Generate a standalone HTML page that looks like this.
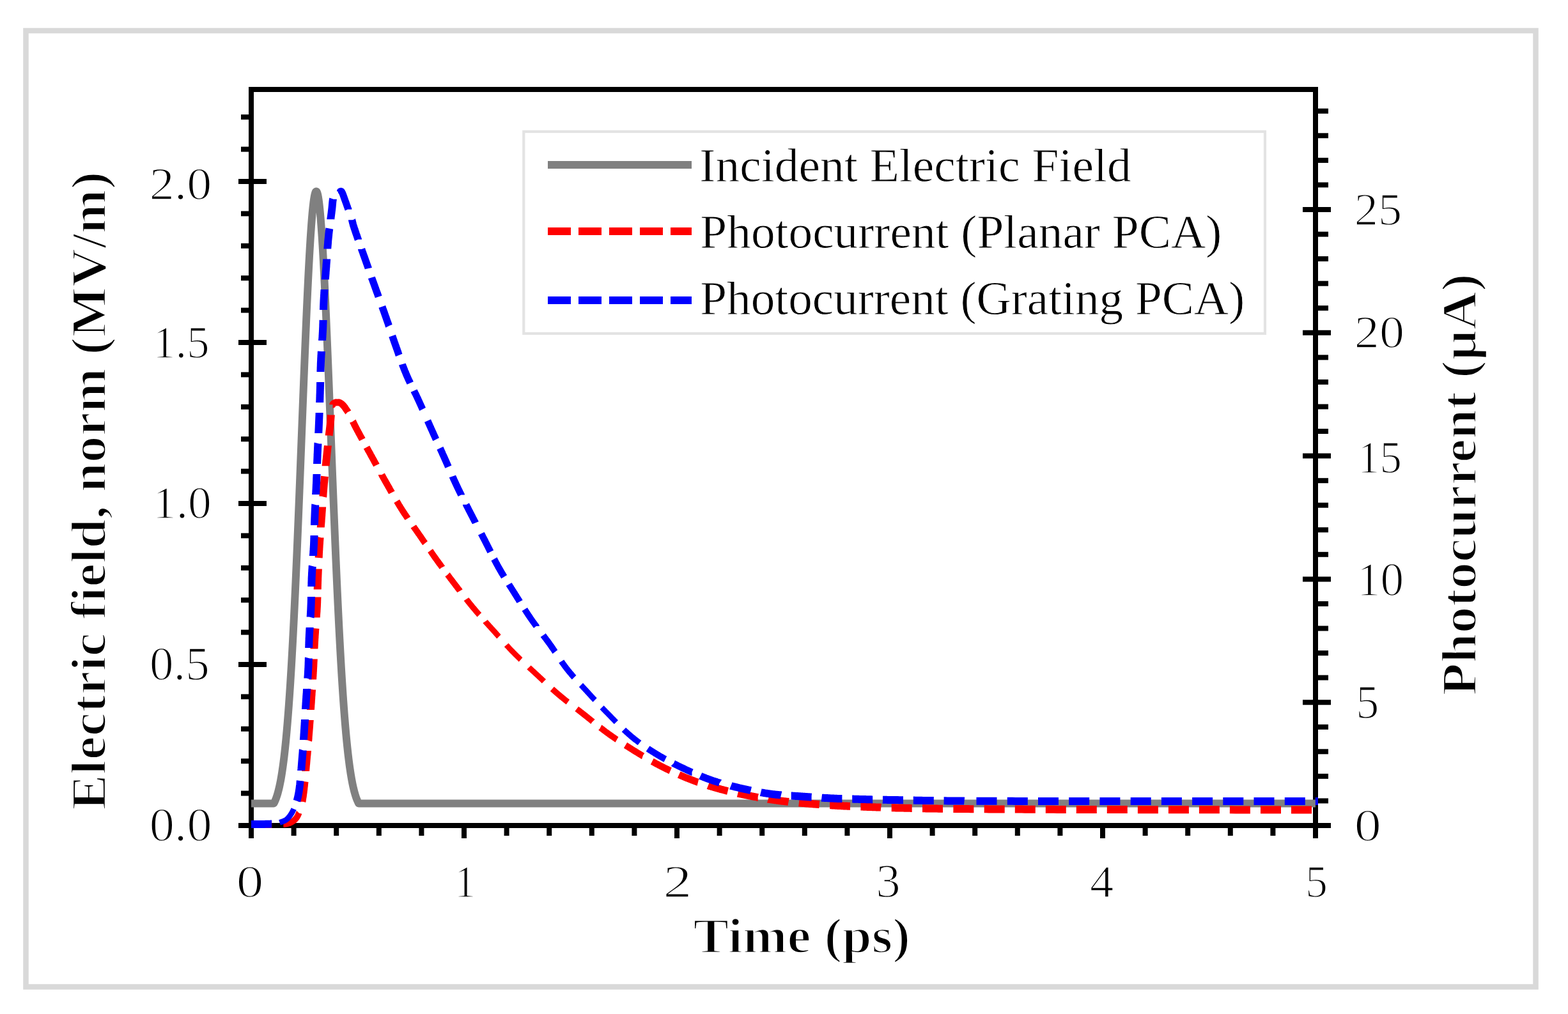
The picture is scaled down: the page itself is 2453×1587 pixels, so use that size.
<!DOCTYPE html>
<html><head><meta charset="utf-8"><title>Photocurrent chart</title>
<style>
html,body{margin:0;padding:0;background:#fff;}
body{width:2453px;height:1587px;overflow:hidden;}
svg{display:block;}
text{font-family:"Liberation Serif","Times New Roman",serif;fill:#000;}
</style></head><body>
<svg width="2453" height="1587" viewBox="0 0 2453 1587">
<rect x="0" y="0" width="2453" height="1587" fill="#fff"/>
<rect x="40.5" y="48" width="2362" height="1496.5" fill="none" stroke="#d9d9d9" stroke-width="8.5"/>
<g stroke="#000" stroke-width="8" fill="none">
<rect x="393" y="140" width="1665" height="1152"/>
<line x1="373" y1="1292.0" x2="417" y2="1292.0"/>
<line x1="377" y1="1241.6" x2="393" y2="1241.6"/>
<line x1="377" y1="1191.2" x2="393" y2="1191.2"/>
<line x1="377" y1="1140.8" x2="393" y2="1140.8"/>
<line x1="377" y1="1090.4" x2="393" y2="1090.4"/>
<line x1="373" y1="1040.0" x2="417" y2="1040.0"/>
<line x1="377" y1="989.6" x2="393" y2="989.6"/>
<line x1="377" y1="939.2" x2="393" y2="939.2"/>
<line x1="377" y1="888.8" x2="393" y2="888.8"/>
<line x1="377" y1="838.4" x2="393" y2="838.4"/>
<line x1="373" y1="788.0" x2="417" y2="788.0"/>
<line x1="377" y1="737.6" x2="393" y2="737.6"/>
<line x1="377" y1="687.2" x2="393" y2="687.2"/>
<line x1="377" y1="636.8" x2="393" y2="636.8"/>
<line x1="377" y1="586.4" x2="393" y2="586.4"/>
<line x1="373" y1="536.0" x2="417" y2="536.0"/>
<line x1="377" y1="485.6" x2="393" y2="485.6"/>
<line x1="377" y1="435.2" x2="393" y2="435.2"/>
<line x1="377" y1="384.8" x2="393" y2="384.8"/>
<line x1="377" y1="334.4" x2="393" y2="334.4"/>
<line x1="373" y1="284.0" x2="417" y2="284.0"/>
<line x1="377" y1="233.6" x2="393" y2="233.6"/>
<line x1="377" y1="183.2" x2="393" y2="183.2"/>
<line x1="2038" y1="1292.0" x2="2082" y2="1292.0"/>
<line x1="2058" y1="1253.4" x2="2078" y2="1253.4"/>
<line x1="2058" y1="1214.9" x2="2078" y2="1214.9"/>
<line x1="2058" y1="1176.3" x2="2078" y2="1176.3"/>
<line x1="2058" y1="1137.8" x2="2078" y2="1137.8"/>
<line x1="2038" y1="1099.2" x2="2082" y2="1099.2"/>
<line x1="2058" y1="1060.6" x2="2078" y2="1060.6"/>
<line x1="2058" y1="1022.1" x2="2078" y2="1022.1"/>
<line x1="2058" y1="983.5" x2="2078" y2="983.5"/>
<line x1="2058" y1="945.0" x2="2078" y2="945.0"/>
<line x1="2038" y1="906.4" x2="2082" y2="906.4"/>
<line x1="2058" y1="867.8" x2="2078" y2="867.8"/>
<line x1="2058" y1="829.3" x2="2078" y2="829.3"/>
<line x1="2058" y1="790.7" x2="2078" y2="790.7"/>
<line x1="2058" y1="752.2" x2="2078" y2="752.2"/>
<line x1="2038" y1="713.6" x2="2082" y2="713.6"/>
<line x1="2058" y1="675.0" x2="2078" y2="675.0"/>
<line x1="2058" y1="636.5" x2="2078" y2="636.5"/>
<line x1="2058" y1="597.9" x2="2078" y2="597.9"/>
<line x1="2058" y1="559.4" x2="2078" y2="559.4"/>
<line x1="2038" y1="520.8" x2="2082" y2="520.8"/>
<line x1="2058" y1="482.2" x2="2078" y2="482.2"/>
<line x1="2058" y1="443.7" x2="2078" y2="443.7"/>
<line x1="2058" y1="405.1" x2="2078" y2="405.1"/>
<line x1="2058" y1="366.6" x2="2078" y2="366.6"/>
<line x1="2038" y1="328.0" x2="2082" y2="328.0"/>
<line x1="2058" y1="289.4" x2="2078" y2="289.4"/>
<line x1="2058" y1="250.9" x2="2078" y2="250.9"/>
<line x1="2058" y1="212.3" x2="2078" y2="212.3"/>
<line x1="2058" y1="173.8" x2="2078" y2="173.8"/>
<line x1="393.0" y1="1292" y2="1312" x2="393.0"/>
<line x1="459.6" y1="1292" y2="1308" x2="459.6"/>
<line x1="526.2" y1="1292" y2="1308" x2="526.2"/>
<line x1="592.8" y1="1292" y2="1308" x2="592.8"/>
<line x1="659.4" y1="1292" y2="1308" x2="659.4"/>
<line x1="726.0" y1="1292" y2="1312" x2="726.0"/>
<line x1="792.6" y1="1292" y2="1308" x2="792.6"/>
<line x1="859.2" y1="1292" y2="1308" x2="859.2"/>
<line x1="925.8" y1="1292" y2="1308" x2="925.8"/>
<line x1="992.4" y1="1292" y2="1308" x2="992.4"/>
<line x1="1059.0" y1="1292" y2="1312" x2="1059.0"/>
<line x1="1125.6" y1="1292" y2="1308" x2="1125.6"/>
<line x1="1192.2" y1="1292" y2="1308" x2="1192.2"/>
<line x1="1258.8" y1="1292" y2="1308" x2="1258.8"/>
<line x1="1325.4" y1="1292" y2="1308" x2="1325.4"/>
<line x1="1392.0" y1="1292" y2="1312" x2="1392.0"/>
<line x1="1458.6" y1="1292" y2="1308" x2="1458.6"/>
<line x1="1525.2" y1="1292" y2="1308" x2="1525.2"/>
<line x1="1591.8" y1="1292" y2="1308" x2="1591.8"/>
<line x1="1658.4" y1="1292" y2="1308" x2="1658.4"/>
<line x1="1725.0" y1="1292" y2="1312" x2="1725.0"/>
<line x1="1791.6" y1="1292" y2="1308" x2="1791.6"/>
<line x1="1858.2" y1="1292" y2="1308" x2="1858.2"/>
<line x1="1924.8" y1="1292" y2="1308" x2="1924.8"/>
<line x1="1991.4" y1="1292" y2="1308" x2="1991.4"/>
<line x1="2058.0" y1="1292" y2="1312" x2="2058.0"/>
</g>
<g fill="none" stroke-width="12" stroke-linejoin="round">
<path d="M393.0,1257.50 L393.5,1257.50 L394.0,1257.50 L394.5,1257.50 L395.0,1257.50 L395.5,1257.50 L396.0,1257.50 L396.5,1257.50 L397.0,1257.50 L397.5,1257.50 L398.0,1257.50 L398.5,1257.50 L399.0,1257.50 L399.5,1257.50 L400.0,1257.50 L400.5,1257.50 L401.0,1257.50 L401.5,1257.50 L402.0,1257.50 L402.5,1257.50 L403.0,1257.50 L403.5,1257.50 L404.0,1257.50 L404.5,1257.50 L405.0,1257.50 L405.5,1257.50 L406.0,1257.50 L406.5,1257.50 L407.0,1257.50 L407.5,1257.50 L408.0,1257.50 L408.5,1257.50 L409.0,1257.50 L409.5,1257.50 L410.0,1257.50 L410.5,1257.50 L411.0,1257.50 L411.5,1257.50 L412.0,1257.50 L412.5,1257.50 L413.0,1257.50 L413.5,1257.50 L414.0,1257.50 L414.5,1257.50 L415.0,1257.50 L415.5,1257.50 L416.0,1257.50 L416.5,1257.50 L417.0,1257.50 L417.5,1257.50 L418.0,1257.50 L418.5,1257.50 L419.0,1257.50 L419.5,1257.50 L420.0,1257.50 L420.5,1257.50 L421.0,1257.50 L421.5,1257.50 L422.0,1257.50 L422.5,1257.50 L423.0,1257.50 L423.5,1257.50 L424.0,1257.50 L424.5,1257.50 L425.0,1257.50 L425.5,1257.50 L426.0,1257.50 L426.5,1257.50 L427.0,1257.50 L427.5,1257.50 L428.0,1257.50 L428.5,1257.24 L429.0,1256.28 L429.5,1255.26 L430.0,1254.19 L430.5,1253.05 L431.0,1251.86 L431.5,1250.59 L432.0,1249.27 L432.5,1247.86 L433.0,1246.39 L433.5,1244.84 L434.0,1243.21 L434.5,1241.50 L435.0,1239.70 L435.5,1237.81 L436.0,1235.82 L436.5,1233.74 L437.0,1231.57 L437.5,1229.28 L438.0,1226.89 L438.5,1224.39 L439.0,1221.78 L439.5,1219.05 L440.0,1216.19 L440.5,1213.22 L441.0,1210.11 L441.5,1206.87 L442.0,1203.49 L442.5,1199.97 L443.0,1196.31 L443.5,1192.49 L444.0,1188.53 L444.5,1184.41 L445.0,1180.13 L445.5,1175.69 L446.0,1171.08 L446.5,1166.31 L447.0,1161.36 L447.5,1156.23 L448.0,1150.92 L448.5,1145.43 L449.0,1139.76 L449.5,1133.90 L450.0,1127.84 L450.5,1121.59 L451.0,1115.15 L451.5,1108.51 L452.0,1101.67 L452.5,1094.63 L453.0,1087.38 L453.5,1079.93 L454.0,1072.27 L454.5,1064.41 L455.0,1056.34 L455.5,1048.07 L456.0,1039.59 L456.5,1030.90 L457.0,1022.00 L457.5,1012.91 L458.0,1003.61 L458.5,994.10 L459.0,984.40 L459.5,974.50 L460.0,964.41 L460.5,954.13 L461.0,943.66 L461.5,933.01 L462.0,922.17 L462.5,911.17 L463.0,899.99 L463.5,888.65 L464.0,877.16 L464.5,865.51 L465.0,853.72 L465.5,841.79 L466.0,829.73 L466.5,817.55 L467.0,805.26 L467.5,792.87 L468.0,780.38 L468.5,767.80 L469.0,755.15 L469.5,742.43 L470.0,729.66 L470.5,716.85 L471.0,704.00 L471.5,691.14 L472.0,678.26 L472.5,665.39 L473.0,652.53 L473.5,639.71 L474.0,626.92 L474.5,614.19 L475.0,601.53 L475.5,588.95 L476.0,576.47 L476.5,564.10 L477.0,551.84 L477.5,539.73 L478.0,527.77 L478.5,515.97 L479.0,504.35 L479.5,492.92 L480.0,481.70 L480.5,470.70 L481.0,459.93 L481.5,449.41 L482.0,439.15 L482.5,429.16 L483.0,419.46 L483.5,410.06 L484.0,400.98 L484.5,392.21 L485.0,383.78 L485.5,375.70 L486.0,367.97 L486.5,360.61 L487.0,353.63 L487.5,347.03 L488.0,340.84 L488.5,335.04 L489.0,329.66 L489.5,324.70 L490.0,320.17 L490.5,316.07 L491.0,312.41 L491.5,309.20 L492.0,306.43 L492.5,304.12 L493.0,302.27 L493.5,300.87 L494.0,299.94 L494.5,299.46 L495.0,299.45 L495.5,299.91 L496.0,300.82 L496.5,302.20 L497.0,304.04 L497.5,306.33 L498.0,309.08 L498.5,312.28 L499.0,315.92 L499.5,320.00 L500.0,324.51 L500.5,329.46 L501.0,334.82 L501.5,340.60 L502.0,346.78 L502.5,353.36 L503.0,360.32 L503.5,367.67 L504.0,375.38 L504.5,383.45 L505.0,391.87 L505.5,400.62 L506.0,409.69 L506.5,419.08 L507.0,428.77 L507.5,438.74 L508.0,448.99 L508.5,459.50 L509.0,470.26 L509.5,481.25 L510.0,492.47 L510.5,503.89 L511.0,515.50 L511.5,527.29 L512.0,539.25 L512.5,551.36 L513.0,563.60 L513.5,575.97 L514.0,588.45 L514.5,601.03 L515.0,613.69 L515.5,626.41 L516.0,639.20 L516.5,652.02 L517.0,664.88 L517.5,677.75 L518.0,690.62 L518.5,703.49 L519.0,716.34 L519.5,729.15 L520.0,741.92 L520.5,754.64 L521.0,767.30 L521.5,779.88 L522.0,792.37 L522.5,804.77 L523.0,817.06 L523.5,829.25 L524.0,841.31 L524.5,853.24 L525.0,865.04 L525.5,876.69 L526.0,888.20 L526.5,899.54 L527.0,910.72 L527.5,921.74 L528.0,932.58 L528.5,943.24 L529.0,953.71 L529.5,964.00 L530.0,974.10 L530.5,984.01 L531.0,993.72 L531.5,1003.23 L532.0,1012.54 L532.5,1021.64 L533.0,1030.55 L533.5,1039.24 L534.0,1047.73 L534.5,1056.02 L535.0,1064.09 L535.5,1071.96 L536.0,1079.63 L536.5,1087.09 L537.0,1094.34 L537.5,1101.39 L538.0,1108.24 L538.5,1114.89 L539.0,1121.34 L539.5,1127.60 L540.0,1133.66 L540.5,1139.53 L541.0,1145.21 L541.5,1150.71 L542.0,1156.02 L542.5,1161.16 L543.0,1166.11 L543.5,1170.90 L544.0,1175.51 L544.5,1179.96 L545.0,1184.24 L545.5,1188.37 L546.0,1192.34 L546.5,1196.16 L547.0,1199.82 L547.5,1203.35 L548.0,1206.73 L548.5,1209.98 L549.0,1213.09 L549.5,1216.08 L550.0,1218.94 L550.5,1221.67 L551.0,1224.29 L551.5,1226.80 L552.0,1229.19 L552.5,1231.48 L553.0,1233.66 L553.5,1235.74 L554.0,1237.73 L554.5,1239.62 L555.0,1241.42 L555.5,1243.14 L556.0,1244.78 L556.5,1246.33 L557.0,1247.81 L557.5,1249.21 L558.0,1250.54 L558.5,1251.81 L559.0,1253.01 L559.5,1254.14 L560.0,1255.22 L560.5,1256.24 L561.0,1257.21 L561.5,1257.50 L562.0,1257.50 L562.5,1257.50 L563.0,1257.50 L563.5,1257.50 L564.0,1257.50 L564.5,1257.50 L565.0,1257.50 L565.5,1257.50 L566.0,1257.50 L566.5,1257.50 L567.0,1257.50 L567.5,1257.50 L568.0,1257.50 L568.5,1257.50 L569.0,1257.50 L569.5,1257.50 L570.0,1257.50 L570.5,1257.50 L571.0,1257.50 L571.5,1257.50 L572.0,1257.50 L572.5,1257.50 L573.0,1257.50 L573.5,1257.50 L574.0,1257.50 L574.5,1257.50 L575.0,1257.50 L575.5,1257.50 L576.0,1257.50 L576.5,1257.50 L577.0,1257.50 L577.5,1257.50 L578.0,1257.50 L578.5,1257.50 L579.0,1257.50 L579.5,1257.50 L580.0,1257.50 L580.5,1257.50 L581.0,1257.50 L581.5,1257.50 L582.0,1257.50 L582.5,1257.50 L583.0,1257.50 L583.5,1257.50 L584.0,1257.50 L584.5,1257.50 L585.0,1257.50 L585.5,1257.50 L586.0,1257.50 L586.5,1257.50 L587.0,1257.50 L587.5,1257.50 L588.0,1257.50 L588.5,1257.50 L589.0,1257.50 L589.5,1257.50 L590.0,1257.50 L590.5,1257.50 L591.0,1257.50 L591.5,1257.50 L592.0,1257.50 L592.5,1257.50 L593.0,1257.50 L593.5,1257.50 L594.0,1257.50 L594.5,1257.50 L595.0,1257.50 L595.5,1257.50 L596.0,1257.50 L596.5,1257.50 L597.0,1257.50 L597.5,1257.50 L598.0,1257.50 L598.5,1257.50 L599.0,1257.50 L599.5,1257.50 L600.0,1257.50 L600.5,1257.50 L601.0,1257.50 L601.5,1257.50 L602.0,1257.50 L602.5,1257.50 L603.0,1257.50 L603.5,1257.50 L604.0,1257.50 L604.5,1257.50 L605.0,1257.50 L605.5,1257.50 L606.0,1257.50 L606.5,1257.50 L607.0,1257.50 L607.5,1257.50 L608.0,1257.50 L608.5,1257.50 L609.0,1257.50 L609.5,1257.50 L610.0,1257.50 L610.5,1257.50 L611.0,1257.50 L611.5,1257.50 L612.0,1257.50 L612.5,1257.50 L613.0,1257.50 L613.5,1257.50 L614.0,1257.50 L614.5,1257.50 L615.0,1257.50 L625.0,1257.50 L635.0,1257.50 L645.0,1257.50 L655.0,1257.50 L665.0,1257.50 L675.0,1257.50 L685.0,1257.50 L695.0,1257.50 L705.0,1257.50 L715.0,1257.50 L725.0,1257.50 L735.0,1257.50 L745.0,1257.50 L755.0,1257.50 L765.0,1257.50 L775.0,1257.50 L785.0,1257.50 L795.0,1257.50 L805.0,1257.50 L815.0,1257.50 L825.0,1257.50 L835.0,1257.50 L845.0,1257.50 L855.0,1257.50 L865.0,1257.50 L875.0,1257.50 L885.0,1257.50 L895.0,1257.50 L905.0,1257.50 L915.0,1257.50 L925.0,1257.50 L935.0,1257.50 L945.0,1257.50 L955.0,1257.50 L965.0,1257.50 L975.0,1257.50 L985.0,1257.50 L995.0,1257.50 L1005.0,1257.50 L1015.0,1257.50 L1025.0,1257.50 L1035.0,1257.50 L1045.0,1257.50 L1055.0,1257.50 L1065.0,1257.50 L1075.0,1257.50 L1085.0,1257.50 L1095.0,1257.50 L1105.0,1257.50 L1115.0,1257.50 L1125.0,1257.50 L1135.0,1257.50 L1145.0,1257.50 L1155.0,1257.50 L1165.0,1257.50 L1175.0,1257.50 L1185.0,1257.50 L1195.0,1257.50 L1205.0,1257.50 L1215.0,1257.50 L1225.0,1257.50 L1235.0,1257.50 L1245.0,1257.50 L1255.0,1257.50 L1265.0,1257.50 L1275.0,1257.50 L1285.0,1257.50 L1295.0,1257.50 L1305.0,1257.50 L1315.0,1257.50 L1325.0,1257.50 L1335.0,1257.50 L1345.0,1257.50 L1355.0,1257.50 L1365.0,1257.50 L1375.0,1257.50 L1385.0,1257.50 L1395.0,1257.50 L1405.0,1257.50 L1415.0,1257.50 L1425.0,1257.50 L1435.0,1257.50 L1445.0,1257.50 L1455.0,1257.50 L1465.0,1257.50 L1475.0,1257.50 L1485.0,1257.50 L1495.0,1257.50 L1505.0,1257.50 L1515.0,1257.50 L1525.0,1257.50 L1535.0,1257.50 L1545.0,1257.50 L1555.0,1257.50 L1565.0,1257.50 L1575.0,1257.50 L1585.0,1257.50 L1595.0,1257.50 L1605.0,1257.50 L1615.0,1257.50 L1625.0,1257.50 L1635.0,1257.50 L1645.0,1257.50 L1655.0,1257.50 L1665.0,1257.50 L1675.0,1257.50 L1685.0,1257.50 L1695.0,1257.50 L1705.0,1257.50 L1715.0,1257.50 L1725.0,1257.50 L1735.0,1257.50 L1745.0,1257.50 L1755.0,1257.50 L1765.0,1257.50 L1775.0,1257.50 L1785.0,1257.50 L1795.0,1257.50 L1805.0,1257.50 L1815.0,1257.50 L1825.0,1257.50 L1835.0,1257.50 L1845.0,1257.50 L1855.0,1257.50 L1865.0,1257.50 L1875.0,1257.50 L1885.0,1257.50 L1895.0,1257.50 L1905.0,1257.50 L1915.0,1257.50 L1925.0,1257.50 L1935.0,1257.50 L1945.0,1257.50 L1955.0,1257.50 L1965.0,1257.50 L1975.0,1257.50 L1985.0,1257.50 L1995.0,1257.50 L2005.0,1257.50 L2015.0,1257.50 L2025.0,1257.50 L2035.0,1257.50 L2045.0,1257.50 L2055.0,1257.50 L2058.0,1257.50" stroke="#808080"/>
<g stroke="#ff0000"><path d="M393.2,1290.0 L393.5,1290.0 L394.0,1290.0 L394.6,1290.0 L395.3,1290.0 L396.0,1290.0 L396.7,1290.0 L397.5,1290.0 L398.3,1290.0 L399.2,1290.0 L400.0,1290.0 L401.0,1290.0 L401.9,1290.0 L402.9,1290.0 L403.9,1290.0 L404.9,1290.0 L406.0,1290.0 L407.0,1290.1 L408.1,1290.1 L409.2,1290.1 L410.2,1290.1 L411.3,1290.1 L412.4,1290.1 L413.5,1290.1 L414.6,1290.1 L415.7,1290.1 L416.8,1290.1 L417.9,1290.1 L419.0,1290.1 L420.0,1290.1 L421.1,1290.1 L422.1,1290.1 L423.1,1290.1 L424.1,1290.1 L425.0,1290.1 L425.2,1290.1" stroke-width="12.0"/><path d="M443.4,1289.9 L443.8,1289.9 L444.2,1289.9 L444.6,1289.9 L445.0,1289.8 L445.5,1289.8 L445.9,1289.8 L446.3,1289.7 L446.7,1289.7 L447.1,1289.6 L447.5,1289.5 L448.0,1289.5 L448.4,1289.4 L448.8,1289.3 L449.2,1289.2 L449.6,1289.1 L450.0,1289.0 L450.4,1288.9 L450.8,1288.8 L451.2,1288.6 L451.6,1288.5 L452.0,1288.4 L452.4,1288.3 L452.8,1288.1 L453.1,1288.0 L453.5,1287.8 L453.9,1287.7 L454.2,1287.5 L454.6,1287.4 L455.0,1287.2 L455.3,1287.0 L455.7,1286.9 L456.0,1286.7 L456.3,1286.5 L456.7,1286.3 L457.0,1286.1 L457.3,1285.9 L457.6,1285.7 L457.9,1285.5 L458.3,1285.3 L458.6,1285.1 L458.9,1284.9 L459.2,1284.7 L459.5,1284.4 L459.8,1284.2 L460.1,1284.0 L460.3,1283.7 L460.6,1283.5 L460.9,1283.2 L461.2,1283.0 L461.4,1282.7 L461.7,1282.4 L462.0,1282.2 L462.2,1281.9 L462.5,1281.6 L462.7,1281.3 L463.0,1281.0 L463.2,1280.7 L463.5,1280.4 L463.7,1280.1 L464.0,1279.8 L464.2,1279.5 L464.4,1279.1 L464.6,1278.8 L464.8,1278.5 L465.0,1278.1 L465.2,1277.8 L465.4,1277.5 L465.6,1277.1 L465.8,1276.7 L466.0,1276.4 L466.2,1276.0 L466.3,1275.7 L466.5,1275.3 L466.7,1274.9 L466.8,1274.5 L467.0,1274.1 L467.2,1273.7 L467.3,1273.3 L467.5,1272.9 L467.6,1272.5 L467.7,1272.4" stroke-width="9.7"/><path d="M472.4,1254.8 L472.4,1254.6 L472.5,1254.0 L472.7,1253.4 L472.8,1252.8 L472.9,1252.1 L473.0,1251.5 L473.1,1250.8 L473.2,1250.1 L473.3,1249.4 L473.4,1248.7 L473.5,1248.0 L473.7,1247.3 L473.8,1246.5 L473.9,1245.8 L474.0,1245.0 L474.1,1244.2 L474.2,1243.4 L474.3,1242.5 L474.4,1241.7 L474.6,1240.8 L474.7,1239.9 L474.8,1239.0 L474.9,1238.1 L475.0,1237.1 L475.2,1236.1 L475.3,1235.1 L475.4,1234.1 L475.5,1233.0 L475.6,1231.9 L475.8,1230.8 L475.9,1229.7 L476.0,1228.5 L476.1,1227.4 L476.2,1226.2 L476.4,1225.0 L476.5,1223.8 L476.6,1223.1" stroke-width="11.9"/><path d="M478.1,1206.9 L478.1,1206.1 L478.3,1204.8 L478.4,1203.5 L478.5,1202.2 L478.6,1201.0 L478.7,1199.7 L478.8,1198.4 L478.9,1197.2 L479.1,1195.9 L479.2,1194.7 L479.3,1193.4 L479.4,1192.2 L479.5,1191.0 L479.6,1189.8 L479.7,1188.6 L479.8,1187.4 L479.9,1186.2 L480.0,1185.0 L480.1,1183.8 L480.2,1182.6 L480.4,1181.4 L480.5,1180.2 L480.6,1179.0 L480.7,1177.8 L480.8,1176.6 L480.9,1175.4 L480.9,1175.1" stroke-width="12.0"/><path d="M482.2,1158.9 L482.3,1158.6 L482.4,1157.4 L482.5,1156.2 L482.6,1155.0 L482.6,1153.8 L482.7,1152.6 L482.8,1151.4 L482.9,1150.2 L483.0,1149.0 L483.1,1147.8 L483.2,1146.6 L483.3,1145.4 L483.4,1144.2 L483.5,1143.0 L483.6,1141.8 L483.7,1140.6 L483.8,1139.4 L483.9,1138.2 L484.0,1137.0 L484.1,1135.8 L484.1,1134.6 L484.2,1133.4 L484.3,1132.2 L484.4,1131.0 L484.5,1129.8 L484.6,1128.6 L484.7,1127.4 L484.7,1127.0" stroke-width="12.0"/><path d="M485.9,1111.0 L485.9,1110.6 L486.0,1109.4 L486.1,1108.2 L486.2,1107.0 L486.3,1105.8 L486.3,1104.6 L486.4,1103.4 L486.5,1102.2 L486.6,1101.0 L486.7,1099.8 L486.8,1098.6 L486.8,1097.4 L486.9,1096.2 L487.0,1095.0 L487.1,1093.8 L487.2,1092.6 L487.2,1091.4 L487.3,1090.2 L487.4,1089.0 L487.5,1087.9 L487.6,1086.7 L487.6,1085.5 L487.7,1084.3 L487.8,1083.1 L487.9,1081.9 L488.0,1080.7 L488.0,1079.5 L488.1,1079.0" stroke-width="12.0"/><path d="M489.1,1063.5 L489.1,1062.9 L489.2,1061.8 L489.2,1060.6 L489.3,1059.4 L489.4,1058.2 L489.5,1057.0 L489.5,1055.8 L489.6,1054.6 L489.7,1053.5 L489.7,1052.3 L489.8,1051.1 L489.9,1049.9 L489.9,1048.7 L490.0,1047.5 L490.1,1046.3 L490.1,1045.1 L490.2,1043.9 L490.3,1042.7 L490.3,1041.5 L490.4,1040.3 L490.4,1039.2 L490.5,1038.0 L490.5,1036.8 L490.6,1035.6 L490.7,1034.4 L490.7,1033.2 L490.8,1032.0 L490.8,1031.5" stroke-width="12.0"/><path d="M491.5,1015.6 L491.5,1015.3 L491.5,1014.1 L491.6,1012.9 L491.7,1011.7 L491.7,1010.5 L491.8,1009.3 L491.8,1008.1 L491.9,1006.9 L492.0,1005.6 L492.0,1004.4 L492.1,1003.2 L492.2,1002.0 L492.2,1000.8 L492.3,999.6 L492.4,998.4 L492.5,997.2 L492.5,995.9 L492.6,994.7 L492.7,993.5 L492.8,992.3 L492.9,991.0 L493.0,989.8 L493.0,988.5 L493.1,987.3 L493.2,986.0 L493.3,984.8 L493.4,983.6" stroke-width="12.0"/><path d="M494.8,966.5 L494.8,966.1 L494.9,964.9 L495.0,963.7 L495.0,962.5 L495.1,961.2 L495.2,960.0 L495.3,958.8 L495.4,957.6 L495.5,956.4 L495.5,955.2 L495.6,954.0 L495.7,952.8 L495.7,951.7 L495.8,950.5 L495.9,949.3 L495.9,948.2 L496.0,947.0 L496.0,945.9 L496.1,944.8 L496.1,943.7 L496.2,942.6 L496.2,941.4 L496.2,940.3 L496.3,939.2 L496.3,938.2 L496.3,937.1 L496.4,936.0 L496.4,934.9 L496.4,934.5" stroke-width="12.0"/><path d="M496.7,922.4 L496.7,922.0 L496.8,920.9 L496.8,919.9 L496.8,918.8 L496.8,917.7 L496.9,916.6 L496.9,915.5 L496.9,914.4 L497.0,913.3 L497.0,912.1 L497.0,911.0 L497.1,909.9 L497.1,908.7 L497.2,907.6 L497.2,906.4 L497.2,905.2 L497.3,904.0 L497.3,902.9 L497.4,901.7 L497.4,900.5 L497.5,899.3 L497.5,898.0 L497.6,896.8 L497.6,895.6 L497.7,894.4 L497.7,893.1 L497.8,891.9 L497.8,890.7 L497.8,890.4" stroke-width="12.0"/><path d="M498.6,873.0 L498.7,871.9 L498.8,870.6 L498.8,869.3 L498.9,868.1 L498.9,866.8 L499.0,865.6 L499.1,864.4 L499.1,863.1 L499.2,861.9 L499.3,860.7 L499.4,859.4 L499.4,858.2 L499.5,857.0 L499.6,855.8 L499.6,854.6 L499.7,853.4 L499.8,852.2 L499.9,851.0 L500.0,849.8 L500.0,848.6 L500.1,847.4 L500.2,846.2 L500.3,845.0 L500.4,843.8 L500.5,842.6 L500.5,841.4 L500.6,841.0" stroke-width="12.0"/><path d="M501.8,825.4 L501.8,824.8 L501.9,823.7 L502.0,822.5 L502.1,821.3 L502.2,820.1 L502.3,818.9 L502.4,817.7 L502.5,816.5 L502.6,815.4 L502.6,814.2 L502.7,813.0 L502.8,811.8 L502.9,810.6 L503.0,809.4 L503.1,808.2 L503.2,807.0 L503.3,805.8 L503.3,804.6 L503.4,803.4 L503.5,802.2 L503.6,801.0 L503.7,799.8 L503.8,798.6 L503.8,797.4 L503.9,796.2 L504.0,795.0 L504.1,793.8 L504.1,793.4" stroke-width="12.0"/><path d="M505.2,777.4 L505.3,777.0 L505.4,775.8 L505.5,774.6 L505.5,773.4 L505.6,772.2 L505.7,771.0 L505.8,769.8 L505.9,768.6 L506.0,767.4 L506.1,766.2 L506.2,765.0 L506.3,763.8 L506.4,762.6 L506.5,761.4 L506.6,760.2 L506.7,759.0 L506.8,757.8 L506.9,756.5 L507.0,755.3 L507.2,754.0 L507.3,752.8 L507.4,751.5 L507.5,750.3 L507.6,749.0 L507.7,747.7 L507.9,746.4 L508.0,745.5" stroke-width="12.0"/><path d="M509.6,729.3 L509.6,728.9 L509.7,727.7 L509.9,726.5 L510.0,725.3 L510.1,724.2 L510.2,723.0 L510.3,721.9 L510.4,720.8 L510.6,719.6 L510.7,718.6 L510.8,717.5 L510.9,716.4 L511.0,715.4 L511.1,714.4 L511.2,713.4 L511.3,712.4 L511.4,711.5 L511.5,710.5 L511.6,709.6 L511.7,708.7 L511.8,707.8 L511.9,706.9 L512.0,706.0 L512.1,705.1 L512.2,704.2 L512.2,703.4 L512.3,702.6 L512.4,701.7 L512.5,700.9 L512.6,700.1 L512.7,699.3 L512.8,698.5 L512.9,697.8 L512.9,697.5" stroke-width="11.9"/><path d="M514.7,681.5 L514.7,681.3 L514.8,680.8 L514.8,680.2 L514.9,679.7 L514.9,679.2 L515.0,678.7 L515.1,678.2 L515.1,677.8 L515.2,677.3 L515.2,676.9 L515.3,676.4 L515.3,676.0 L515.4,675.6 L515.4,675.2 L515.5,674.8 L515.5,674.4 L515.6,674.0 L515.6,673.6 L515.7,673.2 L515.7,672.8 L515.8,672.5 L515.8,672.1 L515.9,671.7 L515.9,671.3 L515.9,671.0 L516.0,670.6 L516.0,670.2 L516.1,669.9 L516.1,669.5 L516.2,669.1 L516.2,668.7 L516.3,668.4 L516.3,668.0 L516.3,667.6 L516.4,667.2 L516.4,666.8 L516.5,666.4 L516.5,666.0 L516.5,665.6 L516.6,665.2 L516.6,664.8 L516.7,664.3 L516.7,663.9 L516.7,663.5 L516.8,663.1 L516.8,662.7 L516.8,662.2 L516.9,661.8 L516.9,661.4 L516.9,661.0 L517.0,660.6 L517.0,660.1 L517.0,659.7 L517.1,659.3 L517.1,658.9 L517.1,658.5 L517.2,658.1 L517.2,657.7 L517.2,657.2 L517.3,656.8 L517.3,656.4 L517.3,656.0 L517.4,655.6 L517.4,655.2 L517.4,654.8 L517.4,654.4 L517.5,654.0 L517.5,653.7 L517.5,653.3 L517.6,652.9 L517.6,652.5 L517.6,652.1 L517.6,651.8 L517.7,651.4 L517.7,651.1 L517.7,650.7 L517.8,650.3 L517.8,650.0 L517.8,649.7 L517.8,649.6" stroke-width="11.9"/><path d="M520.5,633.3 L520.6,633.3 L520.6,633.1 L520.7,633.0 L520.8,632.9 L520.8,632.8 L520.9,632.7 L520.9,632.6 L521.0,632.5 L521.1,632.4 L521.1,632.3 L521.2,632.2 L521.3,632.1 L521.3,632.0 L521.4,631.9 L521.5,631.9 L521.5,631.8 L521.6,631.7 L521.7,631.6 L521.7,631.6 L521.8,631.5 L521.9,631.4 L521.9,631.4 L522.0,631.3 L522.1,631.3 L522.2,631.2 L522.2,631.2 L522.3,631.1 L522.4,631.1 L522.5,631.0 L522.5,631.0 L522.6,630.9 L522.7,630.9 L522.8,630.8 L522.8,630.8 L522.9,630.8 L523.0,630.7 L523.1,630.7 L523.2,630.6 L523.2,630.6 L523.3,630.6 L523.4,630.5 L523.5,630.5 L523.6,630.5 L523.7,630.4 L523.7,630.4 L523.8,630.4 L523.9,630.3 L524.0,630.3 L524.1,630.3 L524.2,630.2 L524.3,630.2 L524.4,630.2 L524.5,630.1 L524.5,630.1 L524.6,630.1 L524.7,630.1 L524.8,630.0 L524.9,630.0 L525.0,630.0 L525.1,630.0 L525.2,630.0 L525.3,630.0 L525.4,629.9 L525.5,629.9 L525.6,629.9 L525.7,629.9 L525.8,629.9 L525.9,629.9 L526.0,629.9 L526.1,629.8 L526.2,629.8 L526.4,629.8 L526.5,629.8 L526.6,629.8 L526.7,629.8 L526.8,629.8 L526.9,629.8 L527.0,629.8 L527.1,629.8 L527.2,629.8 L527.3,629.8 L527.4,629.8 L527.5,629.8 L527.6,629.8 L527.7,629.8 L527.8,629.8 L527.9,629.8 L528.0,629.8 L528.1,629.8 L528.2,629.8 L528.3,629.8 L528.4,629.8 L528.5,629.8 L528.6,629.8 L528.7,629.8 L528.8,629.8 L528.9,629.8 L529.0,629.8 L529.1,629.8 L529.2,629.8 L529.3,629.8 L529.4,629.8 L529.5,629.8 L529.6,629.8 L529.6,629.8 L529.7,629.8 L529.8,629.9 L529.9,629.9 L530.0,629.9 L530.1,629.9 L530.2,629.9 L530.3,629.9 L530.4,629.9 L530.5,630.0 L530.6,630.0 L530.7,630.0 L530.8,630.0 L530.9,630.1 L531.0,630.1 L531.1,630.1 L531.2,630.2 L531.3,630.2 L531.5,630.2 L531.6,630.3 L531.7,630.3 L531.8,630.4 L531.9,630.4 L532.0,630.5 L532.1,630.6 L532.2,630.6 L532.3,630.7 L532.5,630.8 L532.6,630.8 L532.7,630.9 L532.8,631.0 L533.0,631.1 L533.1,631.2 L533.2,631.2 L533.3,631.3 L533.5,631.4 L533.6,631.5 L533.7,631.6 L533.8,631.7 L534.0,631.8 L534.1,631.9 L534.2,632.0 L534.4,632.1 L534.5,632.2 L534.6,632.3 L534.8,632.4 L534.9,632.5 L535.0,632.6 L535.2,632.8 L535.3,632.9 L535.4,633.0 L535.5,633.1 L535.7,633.2 L535.8,633.3 L535.9,633.4 L536.0,633.6 L536.2,633.7 L536.3,633.8 L536.4,633.9 L536.5,634.0 L536.7,634.1 L536.8,634.3 L536.9,634.4 L537.0,634.5 L537.1,634.6 L537.2,634.7 L537.3,634.8 L537.4,635.0 L537.5,635.1 L537.6,635.2 L537.7,635.3 L537.8,635.4 L537.9,635.6 L538.0,635.7 L538.1,635.8 L538.2,635.9 L538.3,636.0 L538.4,636.2 L538.5,636.3 L538.6,636.4 L538.7,636.5 L538.8,636.7 L538.9,636.8 L539.0,636.9 L539.1,637.0 L539.2,637.2 L539.3,637.3 L539.4,637.4 L539.5,637.6 L539.6,637.7 L539.7,637.9 L539.8,638.0 L539.9,638.1 L540.0,638.3 L540.1,638.4 L540.2,638.6 L540.3,638.7 L540.4,638.9 L540.5,639.0 L540.6,639.2 L540.7,639.3 L540.8,639.5 L540.9,639.6 L541.0,639.8 L541.1,640.0 L541.2,640.1 L541.3,640.3 L541.5,640.5 L541.6,640.6 L541.7,640.8 L541.8,641.0 L541.9,641.1 L542.0,641.3 L542.2,641.5 L542.3,641.6 L542.4,641.8 L542.5,642.0 L542.6,642.1 L542.8,642.3 L542.9,642.5 L543.0,642.7 L543.1,642.9 L543.3,643.0 L543.4,643.2 L543.5,643.4 L543.6,643.6 L543.8,643.8 L543.9,644.0 L544.0,644.2 L544.1,644.4 L544.3,644.6 L544.4,644.8" stroke-width="10.8"/><path d="M552.0,659.5 L552.2,659.8 L552.3,660.1 L552.5,660.4 L552.6,660.7 L552.7,661.0 L552.9,661.3 L553.0,661.5 L553.1,661.8 L553.2,662.1 L553.4,662.3 L553.5,662.6 L553.6,662.8 L553.7,663.1 L553.8,663.3 L554.0,663.6 L554.1,663.8 L554.2,664.1 L554.3,664.3 L554.5,664.6 L554.6,664.9 L554.7,665.2 L554.9,665.5 L555.0,665.8 L555.2,666.1 L555.4,666.4 L555.5,666.8 L555.7,667.2 L555.9,667.5 L556.1,667.9 L556.3,668.3 L556.6,668.8 L556.8,669.2 L557.0,669.7 L557.3,670.2 L557.6,670.8 L557.9,671.3 L558.2,671.9 L558.5,672.5 L558.8,673.1 L559.2,673.8 L559.6,674.5 L560.0,675.2 L560.4,676.0 L560.8,676.8 L561.2,677.6 L561.7,678.4 L562.1,679.3 L562.6,680.1 L563.1,681.0 L563.6,682.0 L564.1,682.9 L564.7,683.9 L565.2,684.8 L565.7,685.8 L566.3,686.9 L566.8,687.9" stroke-width="10.6"/><path d="M573.5,700.0 L574.0,700.9 L574.6,702.0 L575.2,703.1 L575.8,704.3 L576.4,705.4 L577.1,706.5 L577.7,707.6 L578.3,708.7 L578.9,709.8 L579.5,710.8 L580.0,711.9 L580.6,713.0 L581.2,714.0 L581.8,715.0 L582.3,716.1 L582.9,717.1 L583.5,718.2 L584.1,719.3 L584.7,720.3 L585.3,721.4 L585.8,722.5 L586.4,723.5 L587.0,724.6 L587.6,725.7 L588.2,726.8 L588.8,727.8 L588.9,728.0" stroke-width="10.5"/><path d="M597.2,743.0 L597.2,743.1 L597.8,744.2 L598.4,745.2 L599.0,746.3 L599.6,747.4 L600.2,748.5 L600.8,749.6 L601.4,750.6 L602.0,751.7 L602.6,752.8 L603.2,753.8 L603.8,754.9 L604.4,755.9 L605.0,757.0 L605.6,758.0 L606.2,759.1 L606.8,760.1 L607.4,761.2 L608.0,762.2 L608.6,763.3 L609.2,764.3 L609.7,765.4 L610.3,766.4 L610.9,767.4 L611.5,768.5 L612.1,769.5 L612.7,770.5 L612.9,770.9" stroke-width="10.5"/><path d="M620.7,784.4 L621.0,784.9 L621.6,785.9 L622.2,786.9 L622.8,787.9 L623.4,788.9 L624.0,790.0 L624.6,791.0 L625.2,792.0 L625.9,793.0 L626.5,794.0 L627.1,795.0 L627.7,796.0 L628.4,797.0 L629.0,798.0 L629.6,799.0 L630.3,800.0 L630.9,801.0 L631.6,802.0 L632.2,803.0 L632.9,804.0 L633.5,804.9 L634.2,805.9 L634.9,806.9 L635.5,807.9 L636.2,808.9 L636.9,809.8 L637.6,810.8 L637.9,811.3" stroke-width="10.1"/><path d="M646.8,823.9 L647.1,824.4 L647.8,825.4 L648.5,826.3 L649.2,827.3 L649.9,828.3 L650.6,829.2 L651.2,830.2 L651.9,831.2 L652.6,832.1 L653.3,833.1 L654.0,834.1 L654.6,835.1 L655.3,836.0 L656.0,837.0 L656.7,838.0 L657.3,838.9 L658.0,839.9 L658.7,840.9 L659.4,841.9 L660.0,842.8 L660.7,843.8 L661.4,844.8 L662.0,845.8 L662.7,846.8 L663.4,847.7 L664.0,848.7 L664.7,849.7 L665.1,850.2" stroke-width="9.9"/><path d="M673.1,861.9 L673.4,862.3 L674.1,863.3 L674.8,864.3 L675.4,865.3 L676.1,866.2 L676.8,867.2 L677.5,868.2 L678.2,869.2 L678.8,870.2 L679.5,871.1 L680.2,872.1 L680.9,873.1 L681.6,874.1 L682.3,875.0 L683.0,876.0 L683.7,877.0 L684.4,878.0 L685.1,878.9 L685.8,879.9 L686.5,880.9 L687.2,881.9 L688.0,882.9 L688.7,883.8 L689.4,884.8 L690.1,885.8 L690.8,886.8 L691.6,887.8 L691.7,888.0" stroke-width="9.8"/><path d="M700.2,899.4 L700.3,899.5 L701.0,900.5 L701.8,901.5 L702.5,902.5 L703.2,903.4 L704.0,904.4 L704.7,905.4 L705.4,906.4 L706.2,907.3 L706.9,908.3 L707.6,909.3 L708.4,910.2 L709.1,911.2 L709.8,912.1 L710.5,913.1 L711.3,914.0 L712.0,915.0 L712.7,915.9 L713.4,916.9 L714.2,917.8 L714.9,918.8 L715.6,919.7 L716.3,920.7 L717.0,921.6 L717.8,922.5 L718.5,923.5 L719.2,924.4 L719.5,924.9" stroke-width="9.6"/><path d="M729.5,937.7 L729.9,938.3 L730.6,939.2 L731.4,940.1 L732.1,941.0 L732.8,942.0 L733.5,942.9 L734.3,943.8 L735.0,944.7 L735.7,945.6 L736.5,946.5 L737.2,947.4 L738.0,948.3 L738.7,949.3 L739.5,950.2 L740.2,951.1 L741.0,952.0 L741.8,952.9 L742.5,953.8 L743.3,954.7 L744.1,955.6 L744.9,956.6 L745.6,957.5 L746.4,958.4 L747.2,959.3 L748.0,960.2 L748.8,961.1 L749.6,962.0 L749.9,962.3" stroke-width="9.2"/><path d="M759.1,972.6 L759.3,972.9 L760.1,973.8 L760.9,974.7 L761.8,975.6 L762.6,976.5 L763.4,977.4 L764.2,978.3 L765.0,979.2 L765.8,980.1 L766.6,980.9 L767.4,981.8 L768.2,982.7 L769.0,983.6 L769.8,984.5 L770.6,985.4 L771.4,986.2 L772.2,987.1 L773.0,988.0 L773.8,988.9 L774.6,989.7 L775.3,990.6 L776.1,991.5 L776.9,992.3 L777.6,993.2 L778.4,994.1 L779.2,994.9 L779.9,995.8 L780.5,996.4" stroke-width="8.9"/><path d="M792.2,1009.5 L792.7,1010.1 L793.5,1010.9 L794.3,1011.8 L795.1,1012.6 L795.9,1013.5 L796.6,1014.3 L797.4,1015.2 L798.2,1016.0 L799.0,1016.9 L799.8,1017.7 L800.7,1018.6 L801.5,1019.4 L802.3,1020.3 L803.2,1021.1 L804.0,1022.0 L804.9,1022.9 L805.7,1023.7 L806.6,1024.6 L807.5,1025.5 L808.4,1026.4 L809.3,1027.2 L810.2,1028.1 L811.1,1029.0 L812.0,1029.9 L812.9,1030.8 L813.8,1031.7 L814.6,1032.4" stroke-width="8.6"/><path d="M827.5,1044.5 L828.0,1045.0 L829.0,1045.9 L829.9,1046.8 L830.9,1047.6 L831.8,1048.5 L832.8,1049.4 L833.7,1050.2 L834.6,1051.1 L835.6,1052.0 L836.5,1052.8 L837.4,1053.7 L838.3,1054.5 L839.2,1055.3 L840.1,1056.2 L841.0,1057.0 L841.9,1057.8 L842.8,1058.6 L843.6,1059.5 L844.5,1060.3 L845.4,1061.1 L846.2,1061.9 L847.1,1062.7 L847.9,1063.5 L848.8,1064.3 L849.6,1065.1 L850.5,1065.9 L850.9,1066.3" stroke-width="8.8"/><path d="M863.8,1078.2 L864.7,1079.0 L865.5,1079.7 L866.4,1080.5 L867.2,1081.2 L868.1,1082.0 L868.9,1082.7 L869.8,1083.5 L870.6,1084.2 L871.5,1085.0 L872.4,1085.7 L873.2,1086.5 L874.1,1087.2 L875.0,1088.0 L875.9,1088.7 L876.8,1089.5 L877.7,1090.2 L878.6,1091.0 L879.5,1091.7 L880.4,1092.4 L881.3,1093.2 L882.2,1093.9 L883.1,1094.6 L884.0,1095.4 L884.9,1096.1 L885.8,1096.8 L886.8,1097.5 L887.7,1098.3 L888.4,1098.8" stroke-width="9.2"/><path d="M902.2,1109.4 L902.6,1109.7 L903.5,1110.4 L904.5,1111.2 L905.4,1111.9 L906.4,1112.6 L907.3,1113.3 L908.2,1114.1 L909.2,1114.8 L910.1,1115.5 L911.1,1116.3 L912.0,1117.0 L912.9,1117.7 L913.9,1118.5 L914.8,1119.2 L915.8,1120.0 L916.7,1120.7 L917.6,1121.5 L918.6,1122.2 L919.5,1123.0 L920.5,1123.8 L921.4,1124.5 L922.4,1125.3 L923.3,1126.1 L924.2,1126.8 L925.2,1127.6 L926.1,1128.4 L927.1,1129.1 L927.3,1129.3" stroke-width="9.4"/><path d="M939.1,1138.8 L939.5,1139.0 L940.4,1139.8 L941.4,1140.5 L942.3,1141.2 L943.3,1142.0 L944.2,1142.7 L945.2,1143.4 L946.2,1144.2 L947.1,1144.9 L948.1,1145.6 L949.0,1146.3 L950.0,1147.0 L951.0,1147.7 L951.9,1148.4 L952.9,1149.1 L953.8,1149.8 L954.8,1150.5 L955.8,1151.1 L956.7,1151.8 L957.7,1152.5 L958.6,1153.1 L959.6,1153.8 L960.6,1154.5 L961.5,1155.1 L962.5,1155.8 L963.5,1156.5 L964.4,1157.1 L965.1,1157.5" stroke-width="9.7"/><path d="M978.5,1166.4 L979.0,1166.7 L980.0,1167.3 L981.0,1168.0 L982.0,1168.6 L983.0,1169.2 L984.0,1169.8 L985.0,1170.5 L986.0,1171.1 L987.0,1171.7 L988.0,1172.4 L989.0,1173.0 L990.0,1173.6 L991.0,1174.3 L992.0,1174.9 L993.1,1175.5 L994.1,1176.2 L995.1,1176.8 L996.1,1177.4 L997.1,1178.0 L998.2,1178.7 L999.2,1179.3 L1000.2,1179.9 L1001.3,1180.6 L1002.3,1181.2 L1003.3,1181.8 L1004.4,1182.4 L1005.4,1183.1 L1005.7,1183.2" stroke-width="10.2"/><path d="M1020.2,1191.7 L1021.2,1192.2 L1022.3,1192.8 L1023.4,1193.4 L1024.5,1194.0 L1025.5,1194.6 L1026.6,1195.2 L1027.7,1195.8 L1028.8,1196.4 L1029.9,1196.9 L1031.0,1197.5 L1032.1,1198.1 L1033.2,1198.6 L1034.3,1199.2 L1035.4,1199.8 L1036.6,1200.4 L1037.7,1200.9 L1038.8,1201.5 L1040.0,1202.1 L1041.1,1202.6 L1042.2,1203.2 L1043.4,1203.7 L1044.5,1204.3 L1045.7,1204.9 L1046.8,1205.4 L1048.0,1206.0 L1048.7,1206.3" stroke-width="10.7"/><path d="M1062.2,1212.5 L1063.1,1212.9 L1064.3,1213.4 L1065.5,1213.9 L1066.6,1214.4 L1067.8,1214.9 L1069.0,1215.4 L1070.1,1215.9 L1071.3,1216.4 L1072.4,1216.8 L1073.6,1217.3 L1074.7,1217.8 L1075.9,1218.2 L1077.0,1218.7 L1078.1,1219.1 L1079.3,1219.6 L1080.4,1220.0 L1081.5,1220.5 L1082.7,1220.9 L1083.8,1221.3 L1084.9,1221.7 L1086.0,1222.2 L1087.1,1222.6 L1088.2,1223.0 L1089.4,1223.4 L1090.5,1223.8 L1091.6,1224.2 L1092.0,1224.3" stroke-width="11.2"/><path d="M1107.8,1229.5 L1108.3,1229.7 L1109.4,1230.0 L1110.6,1230.4 L1111.7,1230.7 L1112.8,1231.0 L1114.0,1231.4 L1115.1,1231.7 L1116.2,1232.0 L1117.4,1232.4 L1118.5,1232.7 L1119.7,1233.0 L1120.8,1233.4 L1122.0,1233.7 L1123.2,1234.0 L1124.3,1234.4 L1125.5,1234.7 L1126.7,1235.0 L1127.9,1235.3 L1129.0,1235.6 L1130.2,1235.9 L1131.4,1236.2 L1132.6,1236.6 L1133.8,1236.9 L1135.0,1237.2 L1136.2,1237.5 L1137.4,1237.8 L1138.6,1238.1 L1138.6,1238.1" stroke-width="11.6"/><path d="M1154.3,1241.7 L1155.5,1242.0 L1156.7,1242.2 L1158.0,1242.5 L1159.2,1242.8 L1160.4,1243.0 L1161.6,1243.3 L1162.8,1243.5 L1164.0,1243.8 L1165.2,1244.0 L1166.4,1244.3 L1167.6,1244.5 L1168.8,1244.8 L1170.0,1245.0 L1171.2,1245.2 L1172.4,1245.5 L1173.6,1245.7 L1174.8,1245.9 L1176.0,1246.2 L1177.2,1246.4 L1178.4,1246.6 L1179.6,1246.9 L1180.8,1247.1 L1182.0,1247.3 L1183.2,1247.5 L1184.3,1247.7 L1185.5,1248.0 L1185.7,1248.0" stroke-width="11.8"/><path d="M1201.9,1250.7 L1202.2,1250.8 L1203.4,1250.9 L1204.6,1251.1 L1205.8,1251.3 L1207.0,1251.5 L1208.2,1251.7 L1209.4,1251.8 L1210.6,1252.0 L1211.8,1252.2 L1212.9,1252.3 L1214.1,1252.5 L1215.3,1252.7 L1216.5,1252.8 L1217.7,1253.0 L1218.9,1253.2 L1220.1,1253.3 L1221.3,1253.5 L1222.4,1253.6 L1223.6,1253.8 L1224.8,1253.9 L1226.0,1254.0 L1227.2,1254.2 L1228.4,1254.3 L1229.5,1254.4 L1230.7,1254.6 L1231.9,1254.7 L1233.1,1254.8 L1233.6,1254.9" stroke-width="11.9"/><path d="M1249.9,1256.4 L1250.8,1256.5 L1252.0,1256.6 L1253.1,1256.7 L1254.3,1256.8 L1255.5,1256.9 L1256.7,1257.0 L1257.9,1257.1 L1259.1,1257.2 L1260.2,1257.3 L1261.4,1257.4 L1262.6,1257.5 L1263.8,1257.6 L1265.0,1257.7 L1266.2,1257.8 L1267.4,1257.9 L1268.6,1258.0 L1269.8,1258.1 L1271.0,1258.2 L1272.2,1258.3 L1273.4,1258.4 L1274.6,1258.5 L1275.8,1258.6 L1277.0,1258.7 L1278.2,1258.7 L1279.4,1258.8 L1280.6,1258.9 L1281.8,1259.0" stroke-width="12.0"/><path d="M1298.1,1260.1 L1298.6,1260.1 L1299.8,1260.2 L1301.0,1260.3 L1302.2,1260.4 L1303.4,1260.4 L1304.6,1260.5 L1305.8,1260.6 L1307.0,1260.7 L1308.2,1260.7 L1309.4,1260.8 L1310.6,1260.9 L1311.8,1260.9 L1313.0,1261.0 L1314.2,1261.1 L1315.4,1261.1 L1316.6,1261.2 L1317.8,1261.3 L1319.0,1261.3 L1320.2,1261.4 L1321.3,1261.4 L1322.5,1261.5 L1323.7,1261.5 L1324.9,1261.6 L1326.1,1261.7 L1327.3,1261.7 L1328.5,1261.8 L1329.7,1261.8 L1330.0,1261.8" stroke-width="12.0"/><path d="M1346.4,1262.5 L1347.5,1262.5 L1348.6,1262.6 L1349.8,1262.6 L1351.0,1262.7 L1352.2,1262.7 L1353.4,1262.7 L1354.6,1262.8 L1355.8,1262.8 L1356.9,1262.9 L1358.1,1262.9 L1359.3,1263.0 L1360.5,1263.0 L1361.7,1263.0 L1362.8,1263.1 L1363.9,1263.1 L1365.0,1263.2 L1366.1,1263.2 L1367.2,1263.3 L1368.3,1263.3 L1369.3,1263.3 L1370.3,1263.4 L1371.3,1263.4 L1372.3,1263.4 L1373.3,1263.5 L1374.4,1263.5 L1375.4,1263.6 L1376.4,1263.6 L1377.4,1263.6 L1378.3,1263.7" stroke-width="12.0"/><path d="M1394.7,1264.2 L1395.7,1264.2 L1397.0,1264.2 L1398.5,1264.3 L1399.9,1264.3 L1401.4,1264.4 L1403.0,1264.4 L1404.6,1264.4 L1406.3,1264.5 L1408.0,1264.5 L1409.7,1264.5 L1411.5,1264.6 L1413.2,1264.6 L1414.9,1264.7 L1416.6,1264.7 L1418.4,1264.7 L1420.1,1264.8 L1421.8,1264.8 L1423.6,1264.8 L1425.3,1264.9 L1426.7,1264.9" stroke-width="12.0"/><path d="M1443.0,1265.3 L1444.5,1265.3 L1446.6,1265.3 L1448.8,1265.4 L1451.0,1265.4 L1453.3,1265.4 L1455.6,1265.5 L1458.0,1265.5 L1460.5,1265.5 L1463.1,1265.6 L1465.7,1265.6 L1468.4,1265.7 L1471.1,1265.7 L1474.0,1265.7 L1475.0,1265.7" stroke-width="12.0"/><path d="M1491.4,1265.9 L1492.9,1265.9 L1496.4,1266.0 L1500.0,1266.0 L1503.7,1266.0 L1507.4,1266.1 L1511.1,1266.1 L1514.9,1266.1 L1518.8,1266.2 L1522.6,1266.2 L1523.4,1266.2" stroke-width="12.0"/><path d="M1539.7,1266.3 L1542.9,1266.3 L1547.1,1266.4 L1551.4,1266.4 L1555.7,1266.4 L1560.1,1266.4 L1564.6,1266.5 L1569.2,1266.5 L1571.7,1266.5" stroke-width="12.0"/><path d="M1587.8,1266.6 L1588.3,1266.6 L1593.2,1266.6 L1598.3,1266.6 L1603.4,1266.7 L1608.7,1266.7 L1614.0,1266.7 L1619.5,1266.7 L1619.8,1266.7" stroke-width="12.0"/><path d="M1635.8,1266.8 L1636.4,1266.8 L1642.2,1266.8 L1648.2,1266.8 L1654.2,1266.9 L1660.4,1266.9 L1666.7,1266.9 L1667.8,1266.9" stroke-width="12.0"/><path d="M1683.8,1267.0 L1686.3,1267.0 L1693.1,1267.0 L1700.0,1267.0 L1707.2,1267.0 L1714.8,1267.0 L1715.8,1267.0" stroke-width="12.0"/><path d="M1731.8,1267.1 L1739.6,1267.1 L1748.6,1267.1 L1757.8,1267.1 L1763.8,1267.1" stroke-width="12.0"/><path d="M1779.9,1267.2 L1786.8,1267.2 L1796.8,1267.2 L1807.1,1267.2 L1811.9,1267.2" stroke-width="12.0"/><path d="M1827.9,1267.2 L1838.4,1267.2 L1849.0,1267.3 L1859.6,1267.3 L1859.9,1267.3" stroke-width="12.0"/><path d="M1875.9,1267.3 L1880.9,1267.3 L1891.5,1267.3 L1902.0,1267.3 L1907.9,1267.3" stroke-width="12.0"/><path d="M1923.9,1267.3 L1933.0,1267.4 L1943.0,1267.4 L1952.9,1267.4 L1955.9,1267.4" stroke-width="12.0"/><path d="M1972.0,1267.4 L1981.1,1267.4 L1990.0,1267.4 L1998.5,1267.4 L2004.0,1267.4" stroke-width="12.0"/><path d="M2020.0,1267.5 L2022.2,1267.5 L2029.3,1267.5 L2036.0,1267.5 L2042.2,1267.5 L2048.0,1267.5 L2052.0,1267.5" stroke-width="12.0"/></g>
<g stroke="#0000ff"><path d="M393.0,1290.0 L393.4,1290.0 L393.9,1290.0 L394.4,1290.0 L395.0,1290.0 L395.6,1290.0 L396.2,1290.0 L396.9,1290.0 L397.6,1290.0 L398.4,1290.0 L399.1,1290.0 L400.0,1290.0 L400.8,1290.0 L401.6,1290.0 L402.5,1290.0 L403.4,1290.0 L404.3,1290.0 L405.2,1290.0 L406.2,1289.9 L407.1,1289.9 L408.1,1289.9 L409.0,1289.9 L410.0,1289.9 L410.9,1289.9 L411.9,1289.9 L412.8,1289.9 L413.8,1289.9 L414.7,1289.9 L415.6,1289.8 L416.6,1289.8 L417.4,1289.8 L418.3,1289.8 L419.2,1289.8 L420.0,1289.7 L420.8,1289.7 L421.6,1289.7 L422.3,1289.7 L423.1,1289.6 L423.7,1289.6 L424.4,1289.5 L425.0,1289.5 L425.0,1289.5" stroke-width="12.0"/><path d="M437.5,1287.4 L437.5,1287.4 L437.8,1287.3 L438.1,1287.2 L438.4,1287.1 L438.7,1287.0 L439.0,1286.8 L439.4,1286.7 L439.7,1286.6 L440.0,1286.5 L440.3,1286.4 L440.6,1286.3 L441.0,1286.2 L441.3,1286.0 L441.6,1285.9 L441.9,1285.8 L442.2,1285.7 L442.5,1285.6 L442.8,1285.5 L443.1,1285.4 L443.3,1285.3 L443.6,1285.1 L443.9,1285.0 L444.2,1284.9 L444.5,1284.8 L444.7,1284.7 L445.0,1284.5 L445.3,1284.4 L445.5,1284.3 L445.8,1284.1 L446.1,1284.0 L446.3,1283.8 L446.6,1283.7 L446.9,1283.5 L447.1,1283.4 L447.4,1283.2 L447.6,1283.0 L447.9,1282.8 L448.2,1282.6 L448.4,1282.4 L448.7,1282.2 L448.9,1282.0 L449.2,1281.8 L449.4,1281.6 L449.7,1281.3 L450.0,1281.1 L450.2,1280.8 L450.5,1280.6 L450.7,1280.3 L451.0,1280.0 L451.3,1279.7 L451.5,1279.4 L451.8,1279.1 L452.1,1278.8 L452.3,1278.4 L452.6,1278.1 L452.8,1277.8 L453.1,1277.4 L453.4,1277.0 L453.6,1276.7 L453.9,1276.3 L454.2,1275.9 L454.4,1275.5 L454.7,1275.1 L455.0,1274.7 L455.2,1274.3 L455.5,1273.9 L455.7,1273.5 L456.0,1273.1 L456.3,1272.7 L456.5,1272.2 L456.8,1271.8 L457.0,1271.3 L457.3,1270.9 L457.5,1270.4 L457.8,1270.0 L458.0,1269.5 L458.3,1269.0 L458.5,1268.5 L458.7,1268.1 L459.0,1267.6 L459.2,1267.1 L459.5,1266.6 L459.7,1266.1" stroke-width="8.7"/><path d="M464.4,1253.6 L464.4,1253.6 L464.6,1253.0 L464.7,1252.4 L464.9,1251.9 L465.1,1251.3 L465.2,1250.7 L465.4,1250.0 L465.5,1249.4 L465.7,1248.8 L465.9,1248.1 L466.0,1247.4 L466.2,1246.8 L466.3,1246.1 L466.5,1245.3 L466.6,1244.6 L466.8,1243.8 L466.9,1243.1 L467.1,1242.3 L467.2,1241.5 L467.4,1240.6 L467.5,1239.8 L467.7,1238.9 L467.8,1238.0 L467.9,1237.1 L468.1,1236.1 L468.2,1235.1 L468.4,1234.1 L468.5,1233.1 L468.6,1232.0 L468.8,1231.0 L468.9,1229.9 L469.0,1228.8 L469.2,1227.6 L469.3,1226.5 L469.4,1225.3 L469.5,1224.1 L469.6,1222.9 L469.7,1222.1" stroke-width="11.8"/><path d="M471.2,1205.9 L471.2,1205.1 L471.4,1203.8 L471.5,1202.5 L471.6,1201.3 L471.7,1200.0 L471.8,1198.7 L471.9,1197.4 L472.0,1196.2 L472.1,1194.9 L472.2,1193.7 L472.3,1192.4 L472.4,1191.2 L472.5,1190.0 L472.6,1188.8 L472.7,1187.6 L472.8,1186.4 L472.9,1185.2 L473.0,1184.0 L473.1,1182.8 L473.2,1181.6 L473.3,1180.4 L473.4,1179.2 L473.5,1178.0 L473.6,1176.8 L473.7,1175.6 L473.7,1174.4 L473.8,1174.1" stroke-width="12.0"/><path d="M474.9,1158.0 L474.9,1157.6 L475.0,1156.4 L475.1,1155.2 L475.2,1154.0 L475.3,1152.8 L475.4,1151.6 L475.4,1150.4 L475.5,1149.2 L475.6,1148.0 L475.7,1146.8 L475.8,1145.6 L475.8,1144.4 L475.9,1143.2 L476.0,1142.0 L476.1,1140.8 L476.2,1139.6 L476.2,1138.4 L476.3,1137.2 L476.4,1136.0 L476.5,1134.8 L476.6,1133.6 L476.6,1132.4 L476.7,1131.2 L476.8,1130.0 L476.9,1128.8 L476.9,1127.6 L477.0,1126.4 L477.0,1126.0" stroke-width="12.0"/><path d="M478.0,1110.0 L478.0,1109.6 L478.1,1108.4 L478.2,1107.2 L478.2,1106.0 L478.3,1104.8 L478.4,1103.6 L478.5,1102.4 L478.5,1101.2 L478.6,1100.0 L478.7,1098.8 L478.8,1097.6 L478.8,1096.4 L478.9,1095.2 L479.0,1094.0 L479.1,1092.8 L479.2,1091.6 L479.2,1090.4 L479.3,1089.2 L479.4,1088.0 L479.5,1086.8 L479.6,1085.6 L479.7,1084.4 L479.8,1083.2 L479.8,1082.0 L479.9,1080.8 L480.0,1079.6 L480.1,1078.4 L480.1,1078.0" stroke-width="12.0"/><path d="M481.3,1062.0 L481.4,1061.6 L481.4,1060.4 L481.5,1059.2 L481.6,1058.0 L481.7,1056.8 L481.8,1055.6 L481.8,1054.4 L481.9,1053.2 L482.0,1052.0 L482.0,1050.8 L482.1,1049.6 L482.2,1048.4 L482.2,1047.2 L482.3,1046.0 L482.4,1044.8 L482.4,1043.6 L482.5,1042.4 L482.5,1041.2 L482.6,1040.0 L482.6,1038.8 L482.6,1037.6 L482.7,1036.4 L482.7,1035.2 L482.8,1034.0 L482.8,1032.8 L482.8,1031.6 L482.8,1030.4 L482.9,1030.0" stroke-width="12.0"/><path d="M483.2,1014.0 L483.2,1013.6 L483.2,1012.4 L483.3,1011.2 L483.3,1010.0 L483.3,1008.8 L483.4,1007.6 L483.4,1006.4 L483.4,1005.2 L483.5,1004.0 L483.5,1002.8 L483.6,1001.6 L483.6,1000.4 L483.6,999.2 L483.7,998.0 L483.8,996.8 L483.8,995.6 L483.9,994.4 L483.9,993.2 L484.0,992.0 L484.1,990.8 L484.1,989.6 L484.2,988.4 L484.3,987.2 L484.3,986.0 L484.4,984.8 L484.5,983.6 L484.6,982.4 L484.6,982.0" stroke-width="12.0"/><path d="M485.6,966.0 L485.7,965.6 L485.7,964.4 L485.8,963.2 L485.9,962.0 L485.9,960.8 L486.0,959.6 L486.1,958.4 L486.1,957.2 L486.2,956.0 L486.3,954.8 L486.3,953.6 L486.4,952.4 L486.4,951.2 L486.5,950.0 L486.5,948.8 L486.6,947.6 L486.6,946.4 L486.7,945.2 L486.7,944.0 L486.8,942.8 L486.8,941.6 L486.8,940.4 L486.9,939.2 L486.9,938.0 L486.9,936.8 L486.9,935.6 L487.0,934.4 L487.0,934.0" stroke-width="12.0"/><path d="M487.3,918.0 L487.3,917.6 L487.3,916.4 L487.4,915.2 L487.4,914.0 L487.4,912.8 L487.4,911.6 L487.5,910.4 L487.5,909.2 L487.6,908.0 L487.6,906.8 L487.6,905.6 L487.7,904.4 L487.7,903.2 L487.8,902.0 L487.9,900.8 L487.9,899.6 L488.0,898.4 L488.0,897.2 L488.1,896.0 L488.2,894.8 L488.3,893.6 L488.3,892.4 L488.4,891.2 L488.5,890.0 L488.6,888.8 L488.6,887.6 L488.7,886.4 L488.8,886.0" stroke-width="12.0"/><path d="M489.9,870.0 L489.9,869.6 L490.0,868.4 L490.1,867.2 L490.2,866.0 L490.3,864.8 L490.3,863.6 L490.4,862.4 L490.5,861.2 L490.6,860.0 L490.6,858.8 L490.7,857.6 L490.8,856.4 L490.8,855.2 L490.9,854.0 L491.0,852.8 L491.0,851.6 L491.1,850.4 L491.1,849.2 L491.2,848.0 L491.2,846.8 L491.3,845.6 L491.3,844.4 L491.3,843.2 L491.4,842.0 L491.4,840.8 L491.5,839.6 L491.5,838.4 L491.5,838.0" stroke-width="12.0"/><path d="M492.0,822.0 L492.0,821.6 L492.0,820.4 L492.0,819.2 L492.1,818.0 L492.1,816.8 L492.2,815.6 L492.2,814.4 L492.2,813.2 L492.3,812.0 L492.3,810.8 L492.4,809.6 L492.4,808.4 L492.5,807.2 L492.5,806.0 L492.6,804.8 L492.6,803.6 L492.7,802.4 L492.7,801.2 L492.8,800.0 L492.8,798.8 L492.9,797.6 L492.9,796.4 L493.0,795.2 L493.1,794.0 L493.1,792.8 L493.2,791.6 L493.2,790.4 L493.3,790.0" stroke-width="12.0"/><path d="M494.1,774.0 L494.1,773.6 L494.2,772.4 L494.3,771.2 L494.3,770.0 L494.4,768.8 L494.4,767.6 L494.5,766.4 L494.6,765.2 L494.6,764.0 L494.7,762.8 L494.7,761.6 L494.8,760.4 L494.8,759.2 L494.9,758.0 L495.0,756.8 L495.0,755.6 L495.1,754.4 L495.1,753.2 L495.2,752.0 L495.2,750.8 L495.2,749.6 L495.3,748.4 L495.3,747.2 L495.4,746.0 L495.4,744.8 L495.5,743.6 L495.5,742.4 L495.5,742.0" stroke-width="12.0"/><path d="M496.1,726.0 L496.1,725.6 L496.1,724.4 L496.2,723.2 L496.2,722.0 L496.3,720.8 L496.3,719.6 L496.4,718.4 L496.4,717.2 L496.5,716.0 L496.5,714.8 L496.6,713.6 L496.6,712.4 L496.6,711.2 L496.7,710.0 L496.8,708.8 L496.8,707.6 L496.9,706.4 L496.9,705.2 L497.0,704.0 L497.0,702.8 L497.1,701.6 L497.1,700.4 L497.2,699.2 L497.3,698.0 L497.3,696.8 L497.4,695.6 L497.4,694.4 L497.5,694.0" stroke-width="12.0"/><path d="M498.3,678.0 L498.3,677.6 L498.3,676.4 L498.4,675.2 L498.5,674.0 L498.5,672.8 L498.6,671.6 L498.6,670.4 L498.7,669.2 L498.7,668.0 L498.8,666.8 L498.8,665.6 L498.9,664.4 L498.9,663.2 L499.0,662.0 L499.0,660.8 L499.1,659.6 L499.1,658.4 L499.2,657.2 L499.2,656.0 L499.3,654.8 L499.3,653.6 L499.4,652.4 L499.4,651.2 L499.5,650.0 L499.5,648.8 L499.6,647.6 L499.6,646.4 L499.6,646.0" stroke-width="12.0"/><path d="M500.2,630.0 L500.2,629.6 L500.2,628.4 L500.3,627.2 L500.3,626.0 L500.4,624.8 L500.4,623.6 L500.4,622.4 L500.5,621.2 L500.5,620.0 L500.5,618.8 L500.6,617.6 L500.6,616.4 L500.7,615.2 L500.7,614.0 L500.7,612.8 L500.8,611.6 L500.8,610.4 L500.8,609.2 L500.9,608.0 L500.9,606.8 L500.9,605.6 L501.0,604.4 L501.0,603.2 L501.0,602.0 L501.0,600.8 L501.1,599.6 L501.1,598.4 L501.1,598.0" stroke-width="12.0"/><path d="M501.5,582.0 L501.5,581.7 L501.5,580.5 L501.5,579.3 L501.6,578.1 L501.6,576.9 L501.6,575.7 L501.7,574.5 L501.7,573.3 L501.8,572.0 L501.8,570.8 L501.8,569.6 L501.9,568.4 L501.9,567.2 L502.0,566.0 L502.1,564.8 L502.1,563.6 L502.2,562.4 L502.2,561.1 L502.3,559.9 L502.4,558.7 L502.4,557.5 L502.5,556.2 L502.6,555.0 L502.7,553.8 L502.7,552.6 L502.8,551.3 L502.9,550.1 L502.9,550.0" stroke-width="12.0"/><path d="M504.1,533.0 L504.1,532.9 L504.1,531.7 L504.2,530.4 L504.3,529.2 L504.4,528.0 L504.5,526.8 L504.5,525.5 L504.6,524.3 L504.7,523.1 L504.7,521.9 L504.8,520.6 L504.9,519.4 L504.9,518.2 L505.0,517.0 L505.1,515.8 L505.1,514.6 L505.2,513.4 L505.2,512.2 L505.3,510.9 L505.3,509.7 L505.3,508.5 L505.4,507.3 L505.4,506.1 L505.5,504.9 L505.5,503.7 L505.5,502.5 L505.6,501.3 L505.6,501.0" stroke-width="12.0"/><path d="M506.0,485.0 L506.0,484.5 L506.0,483.3 L506.1,482.1 L506.1,480.9 L506.1,479.7 L506.2,478.6 L506.2,477.4 L506.3,476.2 L506.3,475.0 L506.4,473.8 L506.4,472.6 L506.5,471.4 L506.5,470.2 L506.6,469.0 L506.7,467.8 L506.7,466.6 L506.8,465.4 L506.9,464.2 L506.9,463.0 L507.0,461.9 L507.1,460.7 L507.2,459.5 L507.2,458.3 L507.3,457.1 L507.4,455.9 L507.5,454.7 L507.6,453.5 L507.6,453.0" stroke-width="12.0"/><path d="M508.8,437.5 L508.8,437.0 L508.9,435.8 L509.0,434.6 L509.1,433.4 L509.2,432.2 L509.3,431.0 L509.4,429.8 L509.5,428.6 L509.6,427.5 L509.6,426.3 L509.7,425.1 L509.8,423.9 L509.9,422.7 L510.0,421.5 L510.1,420.3 L510.2,419.1 L510.3,417.9 L510.4,416.6 L510.4,415.4 L510.5,414.2 L510.6,412.9 L510.7,411.6 L510.8,410.4 L510.9,409.1 L511.0,407.8 L511.1,406.6 L511.1,405.5" stroke-width="12.0"/><path d="M512.3,389.4 L512.3,389.0 L512.4,387.8 L512.5,386.6 L512.6,385.4 L512.7,384.2 L512.8,383.1 L512.9,381.9 L513.0,380.8 L513.1,379.7 L513.1,378.6 L513.2,377.6 L513.3,376.5 L513.4,375.5 L513.5,374.5 L513.6,373.5 L513.7,372.5 L513.8,371.6 L513.9,370.6 L514.0,369.7 L514.1,368.8 L514.2,367.9 L514.2,367.0 L514.3,366.2 L514.4,365.3 L514.5,364.5 L514.6,363.6 L514.7,362.8 L514.8,362.0 L514.9,361.2 L515.0,360.4 L515.1,359.6 L515.2,358.9 L515.3,358.1 L515.4,357.6" stroke-width="11.9"/><path d="M517.3,343.3 L517.3,343.1 L517.3,342.6 L517.4,342.0 L517.5,341.5 L517.5,341.0 L517.6,340.5 L517.7,340.0 L517.7,339.5 L517.8,339.0 L517.8,338.6 L517.9,338.1 L518.0,337.7 L518.0,337.3 L518.1,336.8 L518.1,336.4 L518.2,336.0 L518.2,335.6 L518.3,335.2 L518.3,334.8 L518.4,334.5 L518.4,334.1 L518.5,333.7 L518.5,333.3 L518.6,333.0 L518.6,332.6 L518.7,332.2 L518.7,331.9 L518.7,331.5 L518.8,331.1 L518.8,330.8 L518.9,330.4 L518.9,330.1 L519.0,329.7 L519.0,329.3 L519.1,328.9 L519.1,328.6 L519.2,328.2 L519.2,327.8 L519.3,327.4 L519.3,327.0 L519.3,326.6 L519.4,326.2 L519.4,325.8 L519.5,325.4 L519.5,324.9 L519.6,324.5 L519.6,324.1 L519.6,323.7 L519.7,323.3 L519.7,322.8 L519.8,322.4 L519.8,322.0 L519.8,321.6 L519.9,321.1 L519.9,320.7 L519.9,320.3 L520.0,319.9 L520.0,319.4 L520.1,319.0 L520.1,318.6 L520.1,318.2 L520.2,317.8 L520.2,317.4 L520.2,317.0 L520.3,316.6 L520.3,316.2 L520.4,315.8 L520.4,315.5 L520.4,315.1 L520.5,314.7 L520.5,314.4 L520.6,314.0 L520.6,313.7 L520.7,313.3 L520.7,313.0 L520.8,312.7 L520.8,312.4 L520.9,312.1 L520.9,311.8 L521.0,311.5" stroke-width="11.9"/><path d="M532.4,299.6 L532.4,299.5 L532.5,299.5 L532.6,299.5 L532.6,299.5 L532.7,299.5 L532.8,299.4 L532.8,299.4 L532.9,299.4 L533.0,299.4 L533.0,299.4 L533.1,299.3 L533.2,299.3 L533.2,299.3 L533.3,299.3 L533.4,299.3 L533.4,299.3 L533.5,299.3 L533.6,299.3 L533.6,299.3 L533.7,299.3 L533.8,299.4 L533.8,299.4 L533.9,299.4 L534.0,299.5 L534.1,299.5 L534.1,299.6 L534.2,299.7 L534.3,299.8 L534.4,299.8 L534.5,299.9 L534.5,300.1 L534.6,300.2 L534.7,300.3 L534.8,300.5 L534.9,300.6 L535.0,300.8 L535.1,301.0 L535.2,301.2 L535.3,301.4 L535.4,301.6 L535.5,301.9 L535.6,302.1 L535.8,302.4 L535.9,302.7 L536.0,302.9 L536.1,303.2 L536.2,303.5 L536.4,303.9 L536.5,304.2 L536.6,304.5 L536.7,304.8 L536.9,305.2 L537.0,305.5 L537.1,305.9 L537.2,306.2 L537.4,306.6 L537.5,307.0 L537.6,307.3 L537.8,307.7 L537.9,308.1 L538.0,308.5 L538.2,308.8 L538.3,309.2 L538.4,309.6 L538.6,310.0 L538.7,310.4 L538.8,310.7 L539.0,311.1 L539.1,311.5 L539.2,311.9 L539.4,312.2 L539.5,312.6 L539.6,313.0 L539.7,313.3 L539.9,313.7 L540.0,314.0 L540.1,314.3 L540.2,314.7 L540.4,315.0 L540.5,315.4 L540.6,315.7 L540.8,316.1 L540.9,316.4 L541.0,316.7 L541.1,317.1 L541.2,317.4 L541.4,317.8 L541.5,318.1 L541.6,318.5 L541.8,318.8 L541.9,319.2 L542.0,319.5 L542.1,319.9 L542.3,320.2 L542.4,320.6 L542.5,320.9 L542.6,321.3 L542.8,321.7 L542.9,322.0 L543.0,322.4 L543.1,322.7 L543.2,323.1 L543.4,323.4 L543.5,323.8 L543.6,324.1 L543.8,324.5 L543.9,324.8 L544.0,325.2 L544.1,325.5 L544.2,325.9 L544.4,326.2 L544.5,326.6 L544.6,326.9 L544.8,327.3 L544.9,327.6 L544.9,327.7" stroke-width="11.0"/><path d="M550.7,344.3 L550.7,344.3 L550.7,344.6 L550.8,344.9 L550.9,345.1 L550.9,345.4 L551.0,345.7 L551.1,345.9 L551.1,346.2 L551.2,346.5 L551.3,346.8 L551.3,347.0 L551.4,347.3 L551.5,347.6 L551.5,347.9 L551.6,348.3 L551.7,348.6 L551.8,348.9 L551.9,349.3 L552.0,349.6 L552.1,350.0 L552.2,350.4 L552.3,350.9 L552.4,351.3 L552.5,351.8 L552.7,352.3 L552.8,352.8 L553.0,353.3 L553.2,353.9 L553.4,354.5 L553.6,355.1 L553.8,355.8 L554.0,356.5 L554.2,357.2 L554.5,358.0 L554.8,358.8 L555.1,359.7 L555.4,360.5 L555.7,361.5 L556.0,362.4 L556.3,363.4 L556.7,364.4 L557.0,365.5 L557.4,366.5 L557.8,367.6 L558.2,368.8 L558.6,369.9 L559.0,371.1 L559.4,372.3 L559.8,373.5 L560.3,374.7 L560.3,374.8" stroke-width="11.4"/><path d="M565.7,389.9 L565.7,390.1 L566.2,391.4 L566.6,392.7 L567.1,394.0 L567.6,395.3 L568.0,396.5 L568.4,397.8 L568.9,399.0 L569.3,400.3 L569.8,401.5 L570.2,402.7 L570.6,403.8 L571.0,405.0 L571.4,406.1 L571.8,407.3 L572.2,408.4 L572.6,409.5 L573.0,410.7 L573.4,411.8 L573.8,412.9 L574.2,414.0 L574.6,415.2 L575.0,416.3 L575.4,417.4 L575.8,418.5 L576.2,419.6 L576.3,420.1" stroke-width="11.3"/><path d="M581.4,434.4 L581.6,435.1 L582.0,436.2 L582.4,437.3 L582.8,438.4 L583.2,439.5 L583.6,440.6 L584.0,441.7 L584.4,442.8 L584.8,443.9 L585.2,445.0 L585.6,446.1 L586.0,447.3 L586.4,448.4 L586.8,449.5 L587.2,450.6 L587.6,451.8 L588.0,452.9 L588.4,454.0 L588.8,455.1 L589.2,456.3 L589.6,457.4 L590.1,458.5 L590.5,459.7 L590.9,460.8 L591.3,461.9 L591.7,463.1 L592.1,464.2 L592.2,464.5" stroke-width="11.3"/><path d="M597.8,479.9 L597.9,480.2 L598.3,481.3 L598.7,482.4 L599.1,483.6 L599.5,484.7 L600.0,485.9 L600.4,487.0 L600.8,488.2 L601.2,489.3 L601.6,490.4 L602.0,491.6 L602.4,492.7 L602.8,493.9 L603.2,495.0 L603.6,496.1 L604.0,497.3 L604.4,498.4 L604.8,499.6 L605.2,500.7 L605.6,501.9 L606.0,503.0 L606.4,504.1 L606.8,505.3 L607.2,506.4 L607.6,507.6 L607.9,508.7 L608.3,509.9 L608.4,510.1" stroke-width="11.3"/><path d="M613.7,525.6 L613.8,525.9 L614.2,527.1 L614.6,528.2 L614.9,529.4 L615.3,530.5 L615.7,531.6 L616.1,532.8 L616.5,533.9 L616.9,535.1 L617.3,536.2 L617.7,537.3 L618.1,538.4 L618.5,539.6 L618.9,540.7 L619.3,541.8 L619.7,542.9 L620.1,544.1 L620.5,545.2 L620.9,546.3 L621.3,547.4 L621.7,548.6 L622.1,549.7 L622.5,550.8 L622.9,551.9 L623.2,553.0 L623.6,554.2 L624.0,555.3 L624.2,555.8" stroke-width="11.3"/><path d="M629.4,570.1 L629.6,570.8 L630.0,571.9 L630.4,573.0 L630.9,574.1 L631.3,575.2 L631.7,576.3 L632.1,577.4 L632.6,578.5 L633.0,579.6 L633.4,580.7 L633.9,581.8 L634.3,582.8 L634.8,583.9 L635.2,585.0 L635.7,586.1 L636.1,587.1 L636.6,588.2 L637.0,589.3 L637.5,590.3 L638.0,591.4 L638.5,592.4 L638.9,593.5 L639.4,594.5 L639.9,595.6 L640.4,596.6 L640.9,597.7 L641.4,598.7 L641.8,599.6" stroke-width="11.1"/><path d="M647.6,611.5 L647.9,612.2 L648.4,613.2 L648.9,614.3 L649.4,615.3 L650.0,616.3 L650.5,617.4 L651.0,618.4 L651.5,619.5 L652.0,620.6 L652.5,621.6 L653.0,622.7 L653.5,623.8 L654.0,624.8 L654.5,625.9 L655.0,627.0 L655.5,628.1 L656.0,629.2 L656.5,630.3 L657.0,631.4 L657.5,632.5 L658.0,633.6 L658.5,634.7 L659.0,635.8 L659.5,636.9 L660.0,638.1 L660.5,639.2 L661.0,640.3 L661.1,640.5" stroke-width="10.9"/><path d="M669.0,658.5 L669.5,659.6 L670.0,660.8 L670.5,661.9 L671.0,663.0 L671.5,664.1 L672.0,665.3 L672.5,666.4 L673.0,667.5 L673.5,668.6 L674.0,669.8 L674.5,670.9 L675.0,672.0 L675.5,673.1 L676.0,674.2 L676.5,675.3 L677.0,676.4 L677.5,677.6 L678.0,678.7 L678.5,679.8 L679.0,680.9 L679.5,682.0 L680.0,683.1 L680.5,684.2 L681.0,685.3 L681.5,686.4 L682.0,687.5 L682.1,687.7" stroke-width="10.9"/><path d="M688.4,701.4 L688.6,701.8 L689.1,702.9 L689.6,704.0 L690.1,705.1 L690.6,706.2 L691.1,707.3 L691.6,708.4 L692.1,709.5 L692.5,710.6 L693.0,711.6 L693.5,712.7 L694.0,713.8 L694.5,714.9 L695.0,716.0 L695.5,717.1 L696.0,718.2 L696.4,719.3 L696.9,720.3 L697.4,721.4 L697.9,722.5 L698.3,723.6 L698.8,724.6 L699.3,725.7 L699.8,726.8 L700.2,727.9 L700.7,728.9 L701.1,730.0 L701.4,730.7" stroke-width="11.0"/><path d="M707.9,745.5 L708.1,746.1 L708.6,747.1 L709.1,748.2 L709.5,749.3 L710.0,750.4 L710.5,751.4 L711.0,752.5 L711.5,753.6 L712.0,754.7 L712.5,755.7 L713.0,756.8 L713.5,757.9 L714.0,759.0 L714.5,760.1 L715.0,761.2 L715.6,762.3 L716.1,763.4 L716.6,764.5 L717.1,765.6 L717.7,766.7 L718.2,767.8 L718.7,768.9 L719.3,770.0 L719.8,771.1 L720.4,772.2 L720.9,773.3 L721.5,774.4 L721.5,774.5" stroke-width="10.9"/><path d="M729.3,789.8 L729.3,789.9 L729.9,791.0 L730.4,792.1 L731.0,793.2 L731.6,794.3 L732.1,795.4 L732.7,796.5 L733.2,797.6 L733.8,798.7 L734.3,799.8 L734.9,800.8 L735.4,801.9 L736.0,803.0 L736.6,804.1 L737.1,805.1 L737.7,806.2 L738.2,807.3 L738.8,808.3 L739.3,809.4 L739.8,810.5 L740.4,811.5 L741.0,812.6 L741.5,813.6 L742.0,814.7 L742.6,815.7 L743.2,816.8 L743.7,817.8 L743.9,818.3" stroke-width="10.7"/><path d="M752.8,835.1 L753.0,835.5 L753.6,836.6 L754.2,837.6 L754.7,838.7 L755.2,839.7 L755.8,840.8 L756.3,841.8 L756.9,842.9 L757.5,843.9 L758.0,845.0 L758.5,846.1 L759.1,847.1 L759.6,848.2 L760.2,849.3 L760.7,850.4 L761.3,851.4 L761.8,852.5 L762.4,853.6 L762.9,854.7 L763.5,855.8 L764.0,856.9 L764.5,858.0 L765.1,859.0 L765.6,860.1 L766.2,861.2 L766.7,862.3 L767.2,863.4 L767.3,863.6" stroke-width="10.7"/><path d="M773.0,874.9 L773.3,875.4 L773.8,876.4 L774.4,877.5 L774.9,878.6 L775.5,879.6 L776.0,880.7 L776.6,881.8 L777.2,882.8 L777.7,883.9 L778.3,884.9 L778.9,885.9 L779.4,887.0 L780.0,888.0 L780.6,889.0 L781.2,890.0 L781.7,891.0 L782.3,892.0 L782.9,893.0 L783.5,894.0 L784.0,895.0 L784.6,896.0 L785.2,897.0 L785.8,898.0 L786.4,898.9 L787.0,899.9 L787.5,900.9 L788.1,901.8 L788.7,902.8 L788.7,902.8" stroke-width="10.5"/><path d="M796.1,914.5 L796.5,915.2 L797.1,916.2 L797.7,917.1 L798.4,918.1 L799.0,919.1 L799.6,920.0 L800.2,921.0 L800.8,922.0 L801.5,923.0 L802.1,924.0 L802.7,925.0 L803.4,926.0 L804.0,927.0 L804.6,928.0 L805.3,929.0 L805.9,930.1 L806.6,931.1 L807.2,932.1 L807.9,933.2 L808.5,934.2 L809.2,935.3 L809.8,936.3 L810.5,937.4 L811.2,938.4 L811.8,939.5 L812.5,940.5 L813.1,941.6" stroke-width="10.2"/><path d="M820.8,953.6 L821.3,954.4 L822.0,955.5 L822.7,956.5 L823.3,957.6 L824.0,958.6 L824.7,959.7 L825.4,960.7 L826.1,961.8 L826.8,962.8 L827.5,963.9 L828.2,964.9 L828.9,965.9 L829.6,967.0 L830.3,968.0 L831.0,969.0 L831.7,970.0 L832.4,971.0 L833.1,972.0 L833.8,973.0 L834.5,974.0 L835.3,975.0 L836.0,976.0 L836.7,977.0 L837.4,978.0 L838.2,979.0 L838.9,979.9 L838.9,980.0" stroke-width="9.9"/><path d="M849.7,994.2 L849.9,994.5 L850.7,995.4 L851.4,996.4 L852.1,997.4 L852.8,998.3 L853.6,999.3 L854.3,1000.2 L855.0,1001.2 L855.7,1002.2 L856.5,1003.1 L857.2,1004.1 L857.9,1005.1 L858.6,1006.1 L859.3,1007.0 L860.0,1008.0 L860.7,1009.0 L861.4,1010.0 L862.1,1010.9 L862.8,1011.9 L863.4,1012.9 L864.1,1013.9 L864.8,1014.9 L865.4,1015.8 L866.1,1016.8 L866.8,1017.8 L867.4,1018.8 L868.1,1019.8 L868.4,1020.2" stroke-width="9.8"/><path d="M878.3,1035.0 L878.6,1035.5 L879.3,1036.5 L879.9,1037.5 L880.6,1038.4 L881.3,1039.4 L882.0,1040.4 L882.7,1041.3 L883.4,1042.3 L884.1,1043.2 L884.8,1044.2 L885.5,1045.1 L886.3,1046.1 L887.0,1047.0 L887.7,1047.9 L888.5,1048.9 L889.2,1049.8 L890.0,1050.7 L890.8,1051.7 L891.5,1052.6 L892.3,1053.5 L893.1,1054.4 L893.9,1055.3 L894.6,1056.3 L895.4,1057.2 L896.2,1058.1 L897.0,1059.0 L897.8,1059.9 L898.1,1060.2" stroke-width="9.4"/><path d="M908.9,1072.1 L909.2,1072.4 L910.1,1073.3 L910.9,1074.2 L911.7,1075.1 L912.5,1076.0 L913.3,1076.9 L914.2,1077.7 L915.0,1078.6 L915.8,1079.5 L916.6,1080.4 L917.4,1081.2 L918.2,1082.1 L919.0,1083.0 L919.8,1083.9 L920.6,1084.7 L921.4,1085.6 L922.2,1086.5 L923.0,1087.3 L923.8,1088.2 L924.5,1089.1 L925.3,1089.9 L926.1,1090.8 L926.9,1091.6 L927.7,1092.5 L928.5,1093.3 L929.3,1094.2 L930.0,1095.0 L930.6,1095.6" stroke-width="8.8"/><path d="M941.6,1107.3 L941.9,1107.6 L942.7,1108.5 L943.5,1109.3 L944.3,1110.2 L945.2,1111.0 L946.0,1111.9 L946.8,1112.7 L947.6,1113.6 L948.5,1114.4 L949.3,1115.3 L950.2,1116.1 L951.0,1117.0 L951.9,1117.9 L952.7,1118.7 L953.6,1119.6 L954.4,1120.5 L955.3,1121.4 L956.2,1122.3 L957.0,1123.2 L957.9,1124.1 L958.8,1125.0 L959.7,1125.9 L960.6,1126.8 L961.4,1127.7 L962.3,1128.6 L963.2,1129.5 L963.9,1130.2" stroke-width="8.6"/><path d="M976.0,1142.1 L976.8,1142.9 L977.8,1143.8 L978.7,1144.6 L979.6,1145.5 L980.5,1146.3 L981.5,1147.2 L982.4,1148.0 L983.3,1148.8 L984.2,1149.6 L985.2,1150.4 L986.1,1151.2 L987.0,1152.0 L987.9,1152.8 L988.8,1153.5 L989.8,1154.3 L990.7,1155.0 L991.6,1155.8 L992.5,1156.5 L993.5,1157.3 L994.4,1158.0 L995.3,1158.7 L996.2,1159.4 L997.2,1160.1 L998.1,1160.8 L999.0,1161.5 L1000.0,1162.2 L1000.5,1162.6" stroke-width="9.2"/><path d="M1013.5,1171.7 L1014.1,1172.1 L1015.1,1172.7 L1016.1,1173.4 L1017.0,1174.0 L1018.0,1174.6 L1019.0,1175.2 L1020.0,1175.9 L1021.0,1176.5 L1022.0,1177.1 L1023.0,1177.7 L1024.0,1178.4 L1025.0,1179.0 L1026.0,1179.6 L1027.0,1180.2 L1028.1,1180.9 L1029.1,1181.5 L1030.1,1182.1 L1031.2,1182.7 L1032.2,1183.3 L1033.2,1183.9 L1034.3,1184.5 L1035.4,1185.1 L1036.4,1185.7 L1037.5,1186.3 L1038.5,1186.9 L1039.6,1187.5 L1040.7,1188.1 L1040.9,1188.2" stroke-width="10.3"/><path d="M1053.6,1194.9 L1053.7,1195.0 L1054.8,1195.5 L1055.9,1196.1 L1057.0,1196.6 L1058.1,1197.2 L1059.2,1197.7 L1060.3,1198.3 L1061.4,1198.8 L1062.5,1199.3 L1063.6,1199.9 L1064.7,1200.4 L1065.8,1200.9 L1066.9,1201.5 L1068.0,1202.0 L1069.1,1202.5 L1070.2,1203.0 L1071.3,1203.6 L1072.4,1204.1 L1073.5,1204.6 L1074.6,1205.1 L1075.7,1205.6 L1076.9,1206.2 L1078.0,1206.7 L1079.1,1207.2 L1080.2,1207.7 L1081.3,1208.2 L1082.4,1208.7 L1082.5,1208.7" stroke-width="10.8"/><path d="M1095.8,1214.4 L1096.0,1214.5 L1097.1,1215.0 L1098.2,1215.4 L1099.4,1215.9 L1100.5,1216.3 L1101.6,1216.8 L1102.8,1217.2 L1103.9,1217.7 L1105.0,1218.1 L1106.2,1218.5 L1107.3,1219.0 L1108.5,1219.4 L1109.6,1219.8 L1110.7,1220.2 L1111.9,1220.6 L1113.0,1221.0 L1114.1,1221.4 L1115.3,1221.8 L1116.4,1222.2 L1117.6,1222.5 L1118.7,1222.9 L1119.8,1223.3 L1121.0,1223.6 L1122.1,1224.0 L1123.3,1224.4 L1124.4,1224.7 L1125.6,1225.0 L1125.9,1225.2" stroke-width="11.3"/><path d="M1143.4,1229.9 L1143.9,1230.1 L1145.1,1230.4 L1146.3,1230.6 L1147.4,1230.9 L1148.6,1231.2 L1149.7,1231.5 L1150.9,1231.8 L1152.0,1232.1 L1153.2,1232.3 L1154.4,1232.6 L1155.5,1232.9 L1156.7,1233.2 L1157.8,1233.4 L1159.0,1233.7 L1160.2,1234.0 L1161.3,1234.2 L1162.5,1234.5 L1163.7,1234.8 L1164.8,1235.0 L1166.0,1235.3 L1167.2,1235.6 L1168.3,1235.8 L1169.5,1236.1 L1170.7,1236.3 L1171.8,1236.6 L1173.0,1236.8 L1174.2,1237.1 L1174.6,1237.2" stroke-width="11.7"/><path d="M1190.2,1240.2 L1190.6,1240.3 L1191.8,1240.5 L1193.0,1240.7 L1194.2,1240.9 L1195.3,1241.1 L1196.5,1241.3 L1197.7,1241.5 L1198.9,1241.7 L1200.1,1241.8 L1201.3,1242.0 L1202.4,1242.2 L1203.6,1242.4 L1204.8,1242.5 L1206.0,1242.7 L1207.2,1242.9 L1208.4,1243.0 L1209.6,1243.2 L1210.8,1243.3 L1212.0,1243.4 L1213.1,1243.6 L1214.3,1243.7 L1215.5,1243.8 L1216.7,1243.9 L1217.9,1244.0 L1219.1,1244.1 L1220.3,1244.2 L1221.5,1244.3 L1221.9,1244.4" stroke-width="11.9"/><path d="M1237.7,1245.5 L1238.4,1245.5 L1239.6,1245.6 L1240.8,1245.7 L1242.0,1245.7 L1243.2,1245.8 L1244.4,1245.9 L1245.6,1245.9 L1246.8,1246.0 L1248.0,1246.1 L1249.2,1246.2 L1250.4,1246.3 L1251.6,1246.3 L1252.8,1246.4 L1254.0,1246.5 L1255.2,1246.6 L1256.4,1246.7 L1257.6,1246.8 L1258.8,1246.8 L1260.0,1246.9 L1261.2,1247.0 L1262.4,1247.1 L1263.5,1247.2 L1264.7,1247.3 L1265.9,1247.3 L1267.1,1247.4 L1268.3,1247.5 L1269.5,1247.6 L1269.6,1247.6" stroke-width="12.0"/><path d="M1285.4,1248.6 L1286.2,1248.7 L1287.3,1248.7 L1288.5,1248.8 L1289.7,1248.9 L1290.9,1248.9 L1292.1,1249.0 L1293.3,1249.1 L1294.5,1249.1 L1295.7,1249.2 L1296.8,1249.3 L1298.0,1249.3 L1299.2,1249.4 L1300.4,1249.4 L1301.6,1249.5 L1302.8,1249.6 L1304.0,1249.6 L1305.2,1249.7 L1306.3,1249.7 L1307.5,1249.8 L1308.7,1249.8 L1309.9,1249.9 L1311.1,1249.9 L1312.3,1249.9 L1313.4,1250.0 L1314.6,1250.0 L1315.8,1250.1 L1317.0,1250.1 L1317.4,1250.1" stroke-width="12.0"/><path d="M1333.2,1250.6 L1333.6,1250.6 L1334.7,1250.6 L1335.9,1250.7 L1337.1,1250.7 L1338.3,1250.7 L1339.5,1250.8 L1340.7,1250.8 L1341.9,1250.8 L1343.0,1250.8 L1344.2,1250.9 L1345.4,1250.9 L1346.6,1250.9 L1347.8,1251.0 L1349.0,1251.0 L1350.2,1251.0 L1351.3,1251.1 L1352.4,1251.1 L1353.5,1251.1 L1354.6,1251.1 L1355.6,1251.2 L1356.7,1251.2 L1357.7,1251.2 L1358.7,1251.2 L1359.7,1251.3 L1360.6,1251.3 L1361.6,1251.3 L1362.6,1251.3 L1363.6,1251.4 L1364.5,1251.4 L1365.2,1251.4" stroke-width="12.0"/><path d="M1381.0,1251.7 L1381.1,1251.7 L1382.5,1251.8 L1383.9,1251.8 L1385.3,1251.8 L1386.8,1251.8 L1388.4,1251.9 L1390.0,1251.9 L1391.6,1251.9 L1393.4,1251.9 L1395.1,1252.0 L1397.0,1252.0 L1398.9,1252.0 L1400.8,1252.1 L1402.7,1252.1 L1404.6,1252.1 L1406.6,1252.2 L1408.5,1252.2 L1410.5,1252.2 L1412.5,1252.3 L1413.0,1252.3" stroke-width="12.0"/><path d="M1428.8,1252.6 L1429.6,1252.6 L1431.9,1252.7 L1434.2,1252.7 L1436.6,1252.7 L1439.0,1252.8 L1441.5,1252.8 L1444.0,1252.9 L1446.6,1252.9 L1449.2,1252.9 L1451.9,1253.0 L1454.6,1253.0 L1457.4,1253.1 L1460.2,1253.1 L1460.8,1253.1" stroke-width="12.0"/><path d="M1476.6,1253.3 L1478.8,1253.3 L1482.1,1253.4 L1485.5,1253.4 L1489.0,1253.4 L1492.6,1253.4 L1496.3,1253.5 L1500.0,1253.5 L1503.8,1253.5 L1507.6,1253.5 L1508.6,1253.6" stroke-width="12.0"/><path d="M1527.5,1253.7 L1531.2,1253.7 L1535.3,1253.7 L1539.4,1253.7 L1543.5,1253.7 L1547.8,1253.7 L1552.0,1253.8 L1556.4,1253.8 L1559.5,1253.8" stroke-width="12.0"/><path d="M1575.8,1253.8 L1579.1,1253.8 L1583.8,1253.8 L1588.7,1253.9 L1593.6,1253.9 L1598.6,1253.9 L1603.7,1253.9 L1607.8,1253.9" stroke-width="12.0"/><path d="M1624.0,1253.9 L1625.0,1253.9 L1630.6,1253.9 L1636.3,1253.9 L1642.2,1253.9 L1648.1,1253.9 L1654.1,1254.0 L1656.0,1254.0" stroke-width="12.0"/><path d="M1672.2,1254.0 L1673.0,1254.0 L1679.5,1254.0 L1686.2,1254.0 L1693.0,1254.0 L1700.0,1254.0 L1704.2,1254.0" stroke-width="12.0"/><path d="M1720.4,1254.0 L1722.9,1254.0 L1731.3,1254.0 L1740.0,1254.0 L1749.0,1254.0 L1752.4,1254.0" stroke-width="12.0"/><path d="M1768.7,1254.0 L1777.6,1254.0 L1787.6,1254.0 L1797.8,1254.0 L1800.7,1254.0" stroke-width="12.0"/><path d="M1816.9,1254.0 L1818.6,1254.0 L1829.1,1254.0 L1839.8,1254.0 L1848.9,1254.0" stroke-width="12.0"/><path d="M1865.1,1254.0 L1872.0,1254.0 L1882.8,1254.0 L1893.5,1254.0 L1897.1,1254.0" stroke-width="12.0"/><path d="M1913.3,1254.0 L1914.7,1254.0 L1925.2,1254.0 L1935.5,1254.0 L1945.3,1254.0" stroke-width="12.0"/><path d="M1961.5,1254.0 L1965.4,1254.0 L1974.9,1254.0 L1984.2,1254.0 L1993.2,1254.0 L1993.5,1254.0" stroke-width="12.0"/><path d="M2009.8,1254.0 L2010.2,1254.0 L2018.2,1254.0 L2025.8,1254.0 L2033.0,1254.0 L2039.7,1254.0 L2041.8,1254.0" stroke-width="12.0"/><path d="M2057.8,1254.0 L2062.0,1254.0" stroke-width="12.0"/></g>
</g>
<rect x="819.3" y="206" width="1159.7" height="316" fill="#fff" stroke="#e3e3e3" stroke-width="4.2"/>
<line x1="857" y1="258" x2="1082" y2="258" stroke="#808080" stroke-width="12"/>
<line x1="857" y1="362" x2="1082" y2="362" stroke="#ff0000" stroke-width="12" stroke-dasharray="36 12"/>
<line x1="857" y1="470" x2="1082" y2="470" stroke="#0000ff" stroke-width="12" stroke-dasharray="36 12"/>
<text transform="matrix(1.1159,0,0,1.0348,233.65,311.60)" font-size="70" font-weight="normal" stroke="#fff" stroke-width="1.6">2.0</text>
<text transform="matrix(1.0089,0,0,1.0348,239.25,559.60)" font-size="70" font-weight="normal" stroke="#fff" stroke-width="1.6">1.5</text>
<text transform="matrix(1.0494,0,0,1.0239,239.00,811.40)" font-size="70" font-weight="normal" stroke="#fff" stroke-width="1.6">1.0</text>
<text transform="matrix(1.0720,0,0,1.0435,233.88,1064.00)" font-size="70" font-weight="normal" stroke="#fff" stroke-width="1.6">0.5</text>
<text transform="matrix(1.1195,0,0,1.0435,233.64,1316.00)" font-size="70" font-weight="normal" stroke="#fff" stroke-width="1.6">0.0</text>
<text transform="matrix(1.2172,0,0,1.0370,369.85,1403.70)" font-size="70" font-weight="normal" stroke="#fff" stroke-width="1.6">0</text>
<text transform="matrix(0.9520,0,0,1.0370,710.89,1403.70)" font-size="70" font-weight="normal" stroke="#fff" stroke-width="1.6">1</text>
<text transform="matrix(1.2821,0,0,1.0348,1037.55,1403.60)" font-size="70" font-weight="normal" stroke="#fff" stroke-width="1.6">2</text>
<text transform="matrix(1.1000,0,0,1.0435,1370.30,1404.00)" font-size="70" font-weight="normal" stroke="#fff" stroke-width="1.6">3</text>
<text transform="matrix(1.0667,0,0,1.0391,1704.93,1403.80)" font-size="70" font-weight="normal" stroke="#fff" stroke-width="1.6">4</text>
<text transform="matrix(0.9893,0,0,1.0391,2042.24,1403.80)" font-size="70" font-weight="normal" stroke="#fff" stroke-width="1.6">5</text>
<text transform="matrix(1.0625,0,0,1.0370,2118.81,351.70)" font-size="70" font-weight="normal" stroke="#fff" stroke-width="1.6">25</text>
<text transform="matrix(1.1156,0,0,1.0348,2118.85,543.60)" font-size="70" font-weight="normal" stroke="#fff" stroke-width="1.6">20</text>
<text transform="matrix(0.9836,0,0,1.0391,2124.10,739.60)" font-size="70" font-weight="normal" stroke="#fff" stroke-width="1.6">15</text>
<text transform="matrix(1.0459,0,0,1.0587,2123.02,932.10)" font-size="70" font-weight="normal" stroke="#fff" stroke-width="1.6">10</text>
<text transform="matrix(1.0321,0,0,1.0500,2121.27,1123.70)" font-size="70" font-weight="normal" stroke="#fff" stroke-width="1.6">5</text>
<text transform="matrix(1.2034,0,0,1.0391,2118.79,1315.70)" font-size="70" font-weight="normal" stroke="#fff" stroke-width="1.6">0</text>
<text transform="matrix(0.9947,0,0,0.9351,1084.51,1491.17)" font-size="84" font-weight="bold" stroke="#fff" stroke-width="2.6">Time (ps)</text>
<text transform="matrix(0,-0.9920,0.9256,0,164.54,1267.99)" font-size="84" font-weight="bold" stroke="#fff" stroke-width="2.6">Electric field, norm (MV/m)</text>
<text transform="matrix(0,-0.9935,0.9364,0,2309.25,1088.69)" font-size="84" font-weight="bold" stroke="#fff" stroke-width="2.6">Photocurrent (µA)</text>
<text transform="matrix(1.0494,0,0,1.0280,1094.25,283.50)" font-size="72" font-weight="normal" stroke="#fff" stroke-width="0.8">Incident Electric Field</text>
<text transform="matrix(1.0467,0,0,1.0323,1095.31,388.02)" font-size="72" font-weight="normal" stroke="#fff" stroke-width="0.8">Photocurrent (Planar PCA)</text>
<text transform="matrix(1.0444,0,0,1.0338,1095.31,491.89)" font-size="72" font-weight="normal" stroke="#fff" stroke-width="0.8">Photocurrent (Grating PCA)</text>
</svg>
</body></html>
